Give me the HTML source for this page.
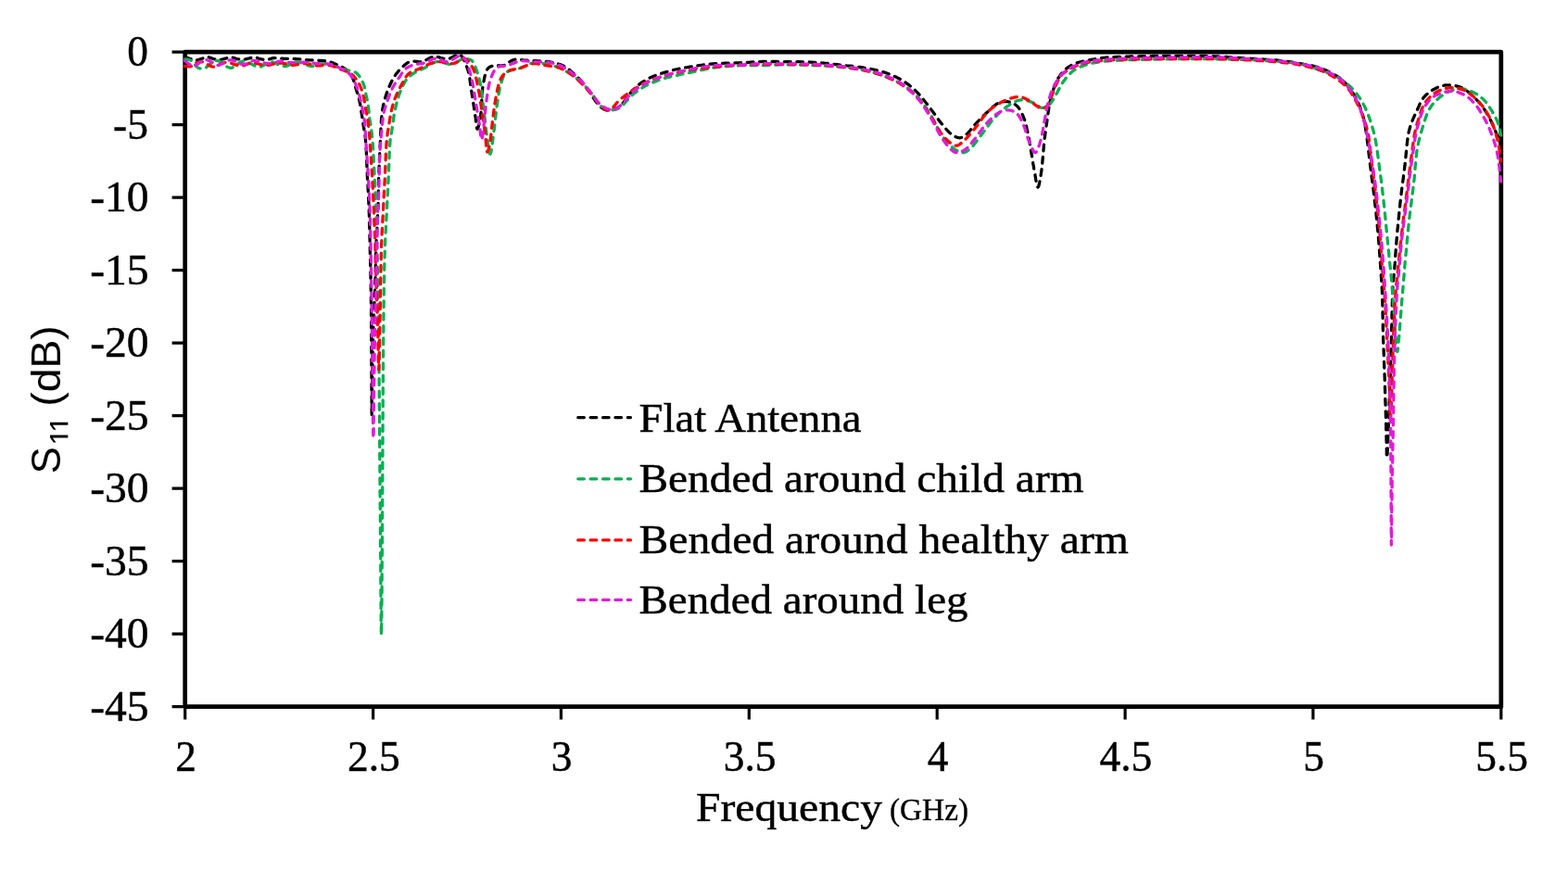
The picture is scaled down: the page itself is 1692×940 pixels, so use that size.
<!DOCTYPE html>
<html><head><meta charset="utf-8"><title>S11 vs Frequency</title>
<style>html,body{margin:0;padding:0;background:#fff;}svg{display:block;}</style>
</head><body>
<svg width="1692" height="940" viewBox="0 0 1692 940"><rect x="199.7" y="56.2" width="1420.1" height="706.5" fill="none" stroke="#000" stroke-width="4.7" stroke-linejoin="round"/>
<path d="M185.6 56.2H199.7 M185.6 134.7H199.7 M185.6 213.2H199.7 M185.6 291.7H199.7 M185.6 370.2H199.7 M185.6 448.7H199.7 M185.6 527.2H199.7 M185.6 605.7H199.7 M185.6 684.2H199.7 M185.6 762.7H199.7 M199.7 762.7V776.5 M402.6 762.7V776.5 M605.4 762.7V776.5 M808.3 762.7V776.5 M1011.2 762.7V776.5 M1214.1 762.7V776.5 M1416.9 762.7V776.5 M1619.8 762.7V776.5" stroke="#000" stroke-width="3.2" stroke-linecap="butt" fill="none"/>
<g fill="none" stroke-width="3.3" stroke-dasharray="6.7 6.7" stroke-linecap="round" stroke-linejoin="round"><path d="M199.7 61.5 L200.5 61.8 L201.2 62.0 L202.0 62.3 L202.7 62.5 L203.5 62.8 L204.2 63.0 L205.0 63.3 L205.7 63.5 L206.4 63.7 L207.0 64.0 L207.7 64.2 L208.3 64.4 L209.0 64.7 L209.6 64.8 L210.3 65.0 L211.0 65.0 L211.8 65.0 L212.7 64.8 L213.6 64.6 L214.6 64.3 L215.5 64.1 L216.4 63.7 L217.3 63.5 L218.1 63.2 L218.8 63.0 L219.5 62.7 L220.1 62.4 L220.7 62.2 L221.4 61.9 L222.0 61.7 L222.7 61.6 L223.4 61.5 L224.3 61.6 L225.3 61.8 L226.2 62.1 L227.2 62.4 L228.2 62.8 L229.2 63.2 L230.2 63.5 L231.1 63.8 L231.8 64.0 L232.5 64.1 L233.1 64.3 L233.7 64.4 L234.4 64.6 L235.0 64.6 L235.7 64.7 L236.4 64.7 L237.3 64.6 L238.3 64.5 L239.3 64.2 L240.3 64.0 L241.3 63.7 L242.3 63.4 L243.2 63.1 L244.1 62.9 L244.7 62.7 L245.3 62.6 L245.9 62.4 L246.4 62.2 L247.0 62.0 L247.6 61.9 L248.2 61.8 L248.8 61.8 L249.7 61.9 L250.8 62.1 L251.8 62.3 L252.9 62.6 L254.1 63.0 L255.1 63.3 L256.2 63.6 L257.1 63.8 L257.7 63.9 L258.3 64.0 L258.9 64.2 L259.4 64.3 L260.0 64.3 L260.6 64.4 L261.2 64.4 L261.8 64.4 L262.7 64.3 L263.8 64.1 L264.8 63.9 L266.0 63.6 L267.1 63.3 L268.1 63.0 L269.2 62.8 L270.1 62.6 L270.7 62.5 L271.3 62.4 L271.9 62.2 L272.5 62.1 L273.0 62.1 L273.6 62.0 L274.2 62.0 L274.8 62.0 L275.7 62.1 L276.8 62.3 L277.8 62.6 L278.9 63.0 L280.1 63.3 L281.1 63.6 L282.2 63.9 L283.1 64.1 L283.7 64.2 L284.3 64.3 L284.9 64.4 L285.4 64.4 L286.0 64.4 L286.6 64.4 L287.2 64.4 L287.8 64.4 L288.7 64.3 L289.7 64.1 L290.7 63.8 L291.8 63.5 L292.9 63.2 L294.0 62.9 L295.0 62.7 L296.1 62.6 L297.2 62.6 L298.2 62.6 L299.3 62.7 L300.3 62.8 L301.4 62.9 L302.5 63.0 L303.6 63.1 L304.8 63.2 L306.4 63.3 L308.0 63.3 L309.7 63.3 L311.4 63.3 L313.2 63.3 L315.0 63.4 L316.7 63.4 L318.4 63.5 L320.0 63.6 L321.7 63.8 L323.3 63.9 L324.9 64.1 L326.5 64.3 L328.2 64.4 L329.8 64.6 L331.4 64.7 L333.0 64.8 L334.7 64.9 L336.3 64.9 L338.0 65.0 L339.6 65.0 L341.2 65.1 L342.8 65.2 L344.4 65.3 L345.8 65.4 L347.1 65.5 L348.4 65.6 L349.8 65.7 L351.1 65.8 L352.4 66.0 L353.7 66.2 L355.0 66.5 L356.5 66.9 L358.0 67.5 L359.6 68.1 L361.1 68.8 L362.7 69.5 L364.1 70.2 L365.5 70.9 L366.8 71.5 L367.6 71.9 L368.4 72.2 L369.2 72.5 L369.9 72.8 L370.6 73.2 L371.3 73.5 L372.0 74.0 L372.7 74.5 L373.7 75.3 L374.7 76.3 L375.7 77.3 L376.7 78.5 L377.6 79.6 L378.5 80.9 L379.4 82.1 L380.1 83.4 L380.8 84.7 L381.3 86.1 L381.8 87.5 L382.2 88.9 L382.7 90.4 L383.1 91.9 L383.5 93.4 L383.9 94.9 L384.4 96.5 L384.9 98.2 L385.4 99.8 L386.0 101.5 L386.5 103.2 L386.9 104.9 L387.4 106.6 L387.8 108.3 L388.2 110.0 L388.5 111.6 L388.8 113.3 L389.1 115.0 L389.3 116.7 L389.6 118.3 L389.8 120.0 L390.1 121.7 L390.4 123.4 L390.6 125.0 L390.9 126.7 L391.1 128.4 L391.4 130.0 L391.6 131.7 L391.8 133.4 L392.1 135.1 L392.4 136.9 L392.7 138.6 L393.0 140.3 L393.3 142.1 L393.6 143.9 L393.9 145.8 L394.2 147.8 L394.4 150.0 L394.7 153.9 L395.0 158.3 L395.3 163.1 L395.5 168.0 L395.7 173.1 L395.9 178.3 L396.1 183.4 L396.3 188.3 L396.5 193.1 L396.8 197.9 L397.1 202.7 L397.3 207.5 L397.6 212.3 L397.8 217.1 L398.0 221.9 L398.2 226.7 L398.4 231.5 L398.5 236.3 L398.6 241.1 L398.8 245.9 L398.9 250.6 L399.0 255.4 L399.1 260.2 L399.2 265.0 L399.3 269.8 L399.4 274.5 L399.6 279.2 L399.7 283.9 L399.8 288.7 L399.9 293.5 L400.0 298.3 L400.1 303.3 L400.2 308.9 L400.3 314.5 L400.4 320.2 L400.4 326.0 L400.5 331.9 L400.6 337.8 L400.6 343.9 L400.7 350.0 L400.8 357.2 L400.8 364.8 L400.8 372.6 L400.9 380.4 L400.9 388.2 L400.9 395.8 L401.0 403.1 L401.0 410.0 L401.0 415.6 L401.0 421.7 L401.1 428.0 L401.1 433.9 L401.1 439.2 L401.1 443.5 L401.2 446.4 L401.2 447.4 L401.3 446.0 L401.3 442.2 L401.4 436.6 L401.5 429.7 L401.6 422.0 L401.7 414.2 L401.8 406.6 L401.9 400.0 L402.0 393.8 L402.1 387.6 L402.2 381.3 L402.4 375.0 L402.5 368.7 L402.7 362.4 L402.8 356.2 L403.0 350.0 L403.2 344.1 L403.4 338.1 L403.7 332.2 L404.0 326.3 L404.2 320.4 L404.5 314.6 L404.7 308.9 L404.9 303.3 L405.1 298.3 L405.2 293.5 L405.3 288.7 L405.4 283.9 L405.5 279.2 L405.6 274.5 L405.7 269.8 L405.9 265.0 L406.1 260.2 L406.3 255.4 L406.6 250.6 L406.9 245.9 L407.1 241.1 L407.4 236.3 L407.6 231.5 L407.8 226.7 L408.0 221.9 L408.1 217.1 L408.2 212.3 L408.3 207.5 L408.4 202.7 L408.5 197.9 L408.6 193.1 L408.8 188.3 L409.0 183.5 L409.2 178.6 L409.4 173.7 L409.6 168.8 L409.8 163.9 L410.0 159.2 L410.3 154.5 L410.5 150.0 L410.7 146.2 L410.8 142.5 L411.0 138.8 L411.2 135.1 L411.4 131.6 L411.6 128.2 L411.9 125.0 L412.2 122.0 L412.5 120.0 L412.8 118.0 L413.1 116.2 L413.4 114.5 L413.8 112.8 L414.2 111.1 L414.6 109.3 L415.1 107.6 L415.6 105.8 L416.1 104.0 L416.7 102.2 L417.3 100.4 L418.0 98.6 L418.6 96.9 L419.3 95.2 L420.0 93.5 L420.7 92.0 L421.4 90.5 L422.1 89.0 L422.8 87.5 L423.5 86.1 L424.3 84.7 L425.1 83.3 L426.0 82.0 L426.9 80.7 L427.8 79.4 L428.8 78.2 L429.8 77.0 L430.8 75.8 L431.8 74.6 L432.9 73.5 L434.0 72.5 L435.0 71.6 L436.1 70.6 L437.2 69.7 L438.3 68.8 L439.4 68.0 L440.6 67.3 L441.8 66.8 L443.0 66.3 L444.4 66.0 L445.8 66.0 L447.3 66.1 L448.8 66.3 L450.3 66.5 L451.8 66.7 L453.4 66.8 L454.9 66.6 L456.6 66.1 L458.3 65.5 L460.0 64.6 L461.7 63.7 L463.5 62.8 L465.2 62.0 L467.0 61.4 L468.7 61.1 L470.4 61.1 L472.2 61.4 L474.0 61.9 L475.8 62.5 L477.6 63.0 L479.3 63.5 L481.0 63.8 L482.6 63.8 L483.9 63.5 L485.2 63.1 L486.5 62.5 L487.8 61.9 L489.0 61.2 L490.1 60.6 L491.2 60.1 L492.2 59.7 L492.8 59.5 L493.4 59.3 L493.9 59.1 L494.4 58.9 L494.9 58.8 L495.4 58.8 L495.9 58.8 L496.4 59.0 L497.5 59.8 L498.6 61.2 L499.7 63.1 L500.9 65.2 L501.9 67.6 L502.9 70.1 L503.9 72.6 L504.7 74.9 L505.5 77.6 L506.1 80.3 L506.7 83.2 L507.1 86.2 L507.5 89.2 L507.9 92.3 L508.3 95.3 L508.8 98.4 L509.3 101.8 L509.9 105.4 L510.5 109.1 L511.0 112.7 L511.5 116.4 L512.1 119.8 L512.5 123.1 L513.0 126.1 L513.3 128.1 L513.5 130.3 L513.8 132.5 L514.0 134.6 L514.2 136.4 L514.5 137.9 L514.8 138.8 L515.1 139.2 L515.5 138.9 L515.9 137.9 L516.3 136.5 L516.8 134.7 L517.3 132.7 L517.7 130.5 L518.1 128.2 L518.5 126.1 L519.0 122.5 L519.3 118.4 L519.6 113.8 L519.8 109.1 L520.0 104.4 L520.3 99.7 L520.7 95.4 L521.3 91.5 L521.8 88.8 L522.3 86.2 L522.8 83.6 L523.4 81.1 L524.0 78.8 L524.8 76.7 L525.7 74.9 L526.8 73.5 L527.7 72.8 L528.6 72.2 L529.6 71.8 L530.7 71.4 L531.8 71.2 L532.9 71.0 L534.0 70.9 L535.1 70.7 L536.1 70.6 L537.1 70.6 L538.2 70.7 L539.2 70.8 L540.2 70.9 L541.3 71.0 L542.3 70.9 L543.4 70.7 L544.7 70.2 L546.1 69.5 L547.4 68.6 L548.8 67.6 L550.1 66.6 L551.6 65.7 L553.0 65.0 L554.5 64.5 L556.1 64.2 L557.8 64.2 L559.5 64.2 L561.3 64.4 L563.0 64.6 L564.8 64.9 L566.6 65.1 L568.3 65.2 L570.0 65.3 L571.7 65.4 L573.5 65.4 L575.2 65.5 L576.9 65.6 L578.6 65.7 L580.4 65.8 L582.1 65.9 L583.8 66.0 L585.6 66.1 L587.3 66.2 L589.1 66.4 L590.8 66.5 L592.6 66.7 L594.3 67.0 L596.0 67.3 L597.8 67.7 L599.6 68.2 L601.4 68.7 L603.2 69.3 L605.0 69.9 L606.7 70.6 L608.3 71.3 L609.8 72.1 L611.0 72.8 L612.1 73.5 L613.1 74.3 L614.2 75.1 L615.1 76.0 L616.1 76.8 L617.0 77.7 L618.0 78.5 L618.9 79.3 L619.8 80.0 L620.7 80.8 L621.5 81.6 L622.4 82.4 L623.3 83.2 L624.1 84.1 L625.0 85.0 L626.1 86.2 L627.1 87.4 L628.2 88.7 L629.3 90.1 L630.4 91.5 L631.5 92.9 L632.6 94.4 L633.8 96.0 L635.4 98.2 L637.1 100.7 L638.8 103.4 L640.6 106.1 L642.4 108.8 L644.2 111.2 L645.9 113.3 L647.7 115.0 L648.8 115.9 L649.9 116.7 L651.0 117.4 L652.1 118.0 L653.2 118.5 L654.4 118.8 L655.5 119.1 L656.7 119.2 L658.1 119.2 L659.6 119.0 L661.1 118.6 L662.6 118.1 L664.1 117.5 L665.6 116.7 L667.0 115.9 L668.4 115.0 L669.9 113.7 L671.4 112.2 L672.8 110.4 L674.2 108.5 L675.5 106.6 L676.8 104.7 L678.1 102.8 L679.5 101.2 L680.7 99.9 L681.9 98.6 L683.0 97.3 L684.2 96.1 L685.4 94.9 L686.6 93.7 L687.8 92.6 L689.2 91.5 L690.7 90.3 L692.3 89.2 L694.0 88.1 L695.7 87.1 L697.4 86.1 L699.2 85.1 L701.1 84.1 L703.0 83.2 L705.3 82.2 L707.8 81.2 L710.4 80.3 L713.0 79.4 L715.7 78.6 L718.4 77.8 L721.1 77.0 L723.7 76.3 L726.3 75.6 L728.8 75.0 L731.3 74.5 L733.9 74.0 L736.5 73.5 L739.1 73.0 L741.7 72.6 L744.5 72.1 L747.8 71.6 L751.1 71.1 L754.5 70.6 L758.0 70.2 L761.6 69.7 L765.1 69.3 L768.6 69.0 L772.1 68.7 L775.6 68.5 L779.1 68.3 L782.7 68.2 L786.2 68.1 L789.7 68.0 L793.2 67.9 L796.5 67.8 L799.8 67.7 L802.5 67.6 L805.0 67.4 L807.5 67.3 L810.0 67.1 L812.4 66.9 L814.9 66.8 L817.4 66.7 L820.0 66.6 L822.9 66.5 L825.9 66.5 L828.9 66.5 L831.9 66.5 L835.0 66.5 L838.1 66.5 L841.3 66.6 L844.6 66.6 L848.7 66.6 L852.9 66.7 L857.3 66.7 L861.8 66.7 L866.3 66.8 L870.7 66.9 L875.0 67.1 L879.2 67.3 L882.8 67.5 L886.3 67.8 L889.8 68.2 L893.2 68.5 L896.6 68.9 L900.0 69.3 L903.4 69.7 L906.8 70.1 L910.3 70.5 L913.8 70.9 L917.4 71.2 L920.9 71.6 L924.4 72.0 L927.9 72.5 L931.2 73.0 L934.5 73.5 L937.3 74.0 L940.0 74.5 L942.6 75.0 L945.2 75.6 L947.7 76.2 L950.2 76.9 L952.7 77.6 L955.2 78.4 L957.6 79.2 L959.9 80.1 L962.2 81.1 L964.5 82.0 L966.8 83.1 L969.0 84.2 L971.1 85.3 L973.2 86.5 L975.1 87.7 L976.9 88.8 L978.6 90.1 L980.4 91.3 L982.0 92.7 L983.7 94.0 L985.4 95.5 L987.0 97.0 L988.8 98.8 L990.6 100.6 L992.3 102.5 L994.0 104.5 L995.7 106.6 L997.4 108.7 L999.1 110.8 L1000.9 113.0 L1003.0 115.7 L1005.1 118.6 L1007.3 121.6 L1009.5 124.6 L1011.6 127.6 L1013.7 130.5 L1015.8 133.1 L1017.7 135.5 L1019.0 137.0 L1020.2 138.4 L1021.4 139.8 L1022.6 141.1 L1023.7 142.3 L1024.9 143.4 L1026.1 144.4 L1027.3 145.3 L1028.3 146.0 L1029.4 146.6 L1030.4 147.2 L1031.5 147.8 L1032.5 148.2 L1033.6 148.5 L1034.6 148.7 L1035.6 148.8 L1036.5 148.7 L1037.4 148.5 L1038.3 148.1 L1039.1 147.7 L1040.0 147.2 L1040.9 146.6 L1041.7 146.0 L1042.6 145.3 L1043.8 144.3 L1044.9 143.1 L1046.1 141.7 L1047.3 140.3 L1048.4 138.8 L1049.6 137.3 L1050.9 135.8 L1052.2 134.3 L1053.8 132.6 L1055.5 130.8 L1057.2 129.0 L1059.0 127.2 L1060.8 125.4 L1062.6 123.7 L1064.3 122.0 L1066.1 120.4 L1067.6 119.0 L1069.2 117.6 L1070.7 116.1 L1072.2 114.8 L1073.8 113.5 L1075.3 112.4 L1076.9 111.4 L1078.5 110.7 L1079.9 110.3 L1081.3 109.9 L1082.7 109.7 L1084.2 109.6 L1085.6 109.6 L1087.0 109.7 L1088.3 109.8 L1089.6 110.1 L1090.7 110.4 L1091.9 110.8 L1093.0 111.3 L1094.0 111.9 L1095.0 112.5 L1096.0 113.2 L1097.0 114.0 L1097.9 114.9 L1099.0 116.1 L1099.9 117.4 L1100.9 118.9 L1101.8 120.5 L1102.6 122.2 L1103.4 123.9 L1104.1 125.6 L1104.8 127.3 L1105.5 129.1 L1106.1 130.9 L1106.6 132.7 L1107.1 134.6 L1107.6 136.5 L1108.0 138.5 L1108.4 140.5 L1108.9 142.6 L1109.5 145.3 L1110.0 148.1 L1110.6 151.1 L1111.1 154.1 L1111.6 157.2 L1112.1 160.2 L1112.6 163.2 L1113.1 166.1 L1113.6 168.8 L1114.0 171.4 L1114.4 174.1 L1114.8 176.7 L1115.3 179.3 L1115.7 181.9 L1116.1 184.4 L1116.6 186.8 L1117.0 189.0 L1117.4 191.5 L1117.8 194.0 L1118.3 196.5 L1118.7 198.6 L1119.1 200.4 L1119.6 201.6 L1120.0 202.0 L1120.4 201.6 L1120.9 200.5 L1121.3 198.8 L1121.8 196.7 L1122.3 194.3 L1122.7 191.8 L1123.1 189.2 L1123.5 186.8 L1124.0 183.1 L1124.5 178.9 L1124.9 174.5 L1125.3 169.8 L1125.7 165.2 L1126.1 160.6 L1126.5 156.2 L1126.9 152.2 L1127.2 149.3 L1127.6 146.6 L1127.9 144.0 L1128.3 141.4 L1128.6 138.9 L1129.0 136.5 L1129.3 134.0 L1129.7 131.5 L1130.0 129.1 L1130.4 126.7 L1130.7 124.4 L1131.0 122.0 L1131.4 119.7 L1131.7 117.4 L1132.1 115.2 L1132.5 113.0 L1132.9 111.2 L1133.2 109.4 L1133.6 107.7 L1134.0 106.1 L1134.4 104.4 L1134.8 102.8 L1135.3 101.1 L1135.8 99.5 L1136.3 97.9 L1136.8 96.3 L1137.3 94.7 L1137.9 93.1 L1138.4 91.5 L1139.1 90.0 L1139.7 88.5 L1140.5 87.0 L1141.3 85.5 L1142.2 84.0 L1143.1 82.6 L1144.1 81.2 L1145.1 79.8 L1146.2 78.5 L1147.3 77.2 L1148.5 76.0 L1149.7 74.9 L1151.0 73.9 L1152.3 72.9 L1153.6 72.0 L1155.0 71.1 L1156.5 70.3 L1158.0 69.5 L1159.5 68.8 L1161.3 68.1 L1163.1 67.5 L1165.0 67.0 L1167.0 66.6 L1169.0 66.1 L1171.0 65.8 L1173.0 65.4 L1175.0 65.0 L1176.9 64.6 L1178.9 64.2 L1180.8 63.9 L1182.7 63.5 L1184.7 63.2 L1186.7 62.9 L1188.8 62.6 L1190.9 62.4 L1193.6 62.1 L1196.5 61.9 L1199.4 61.8 L1202.5 61.6 L1205.5 61.5 L1208.6 61.4 L1211.6 61.3 L1214.6 61.2 L1217.6 61.1 L1220.5 61.0 L1223.5 60.9 L1226.4 60.8 L1229.4 60.8 L1232.3 60.7 L1235.3 60.7 L1238.2 60.6 L1241.1 60.6 L1244.1 60.5 L1247.0 60.5 L1250.0 60.5 L1252.9 60.4 L1255.9 60.4 L1258.8 60.4 L1261.8 60.4 L1264.8 60.4 L1267.7 60.4 L1270.7 60.4 L1273.6 60.4 L1276.6 60.4 L1279.5 60.4 L1282.5 60.4 L1285.5 60.4 L1288.5 60.4 L1291.5 60.4 L1294.5 60.5 L1297.4 60.5 L1300.5 60.5 L1303.5 60.6 L1306.7 60.7 L1310.0 60.8 L1314.1 61.0 L1318.4 61.2 L1322.8 61.5 L1327.3 61.8 L1331.9 62.1 L1336.5 62.4 L1341.0 62.7 L1345.5 63.0 L1350.0 63.3 L1354.5 63.5 L1359.1 63.8 L1363.7 64.1 L1368.2 64.3 L1372.6 64.7 L1376.8 65.0 L1380.9 65.4 L1384.1 65.8 L1387.2 66.2 L1390.3 66.6 L1393.2 67.0 L1396.1 67.4 L1399.0 67.9 L1401.8 68.4 L1404.6 68.9 L1407.1 69.4 L1409.6 69.8 L1412.0 70.2 L1414.5 70.7 L1416.8 71.2 L1419.1 71.8 L1421.4 72.3 L1423.5 73.0 L1425.2 73.6 L1426.9 74.2 L1428.4 74.9 L1430.0 75.6 L1431.5 76.3 L1433.0 77.0 L1434.5 77.8 L1436.0 78.6 L1437.6 79.4 L1439.1 80.3 L1440.7 81.1 L1442.2 82.0 L1443.7 82.9 L1445.2 83.9 L1446.6 84.9 L1448.0 86.0 L1449.3 87.1 L1450.5 88.4 L1451.7 89.6 L1452.9 90.9 L1454.0 92.3 L1455.1 93.7 L1456.1 95.1 L1457.2 96.5 L1458.3 98.0 L1459.3 99.6 L1460.4 101.2 L1461.4 102.8 L1462.3 104.5 L1463.3 106.1 L1464.2 107.8 L1465.0 109.5 L1465.8 111.2 L1466.5 112.9 L1467.3 114.6 L1467.9 116.3 L1468.6 118.1 L1469.2 119.9 L1469.7 121.7 L1470.3 123.5 L1470.8 125.4 L1471.3 127.3 L1471.8 129.3 L1472.2 131.2 L1472.6 133.2 L1473.0 135.3 L1473.4 137.6 L1473.8 140.0 L1474.4 144.0 L1475.0 148.4 L1475.6 153.2 L1476.2 158.1 L1476.8 163.2 L1477.4 168.3 L1478.0 173.4 L1478.6 178.3 L1479.2 183.1 L1479.8 187.9 L1480.4 192.7 L1481.1 197.5 L1481.7 202.3 L1482.3 207.1 L1482.8 211.9 L1483.4 216.7 L1483.9 221.5 L1484.5 226.3 L1485.0 231.1 L1485.5 235.8 L1486.0 240.6 L1486.4 245.4 L1486.9 250.2 L1487.3 255.0 L1487.7 259.9 L1488.1 264.8 L1488.5 269.8 L1488.8 274.8 L1489.2 279.6 L1489.5 284.4 L1489.8 289.0 L1490.1 293.3 L1490.3 296.4 L1490.5 299.3 L1490.7 302.1 L1490.9 304.7 L1491.1 307.4 L1491.2 310.2 L1491.4 313.1 L1491.5 316.3 L1491.7 320.8 L1491.8 325.6 L1491.9 330.5 L1492.0 335.7 L1492.1 341.0 L1492.2 346.4 L1492.3 351.9 L1492.4 357.4 L1492.6 364.1 L1492.8 371.1 L1493.1 378.3 L1493.4 385.6 L1493.6 392.9 L1493.9 400.3 L1494.2 407.6 L1494.4 414.9 L1494.6 422.3 L1494.8 429.9 L1495.1 437.6 L1495.3 445.3 L1495.5 452.8 L1495.7 459.9 L1495.8 466.4 L1496.0 472.3 L1496.1 475.8 L1496.2 479.5 L1496.2 483.1 L1496.3 486.5 L1496.3 489.5 L1496.4 491.9 L1496.5 493.4 L1496.6 494.0 L1496.8 492.5 L1497.1 488.3 L1497.4 482.0 L1497.7 474.2 L1498.0 465.5 L1498.4 456.5 L1498.7 447.8 L1499.0 440.0 L1499.3 431.6 L1499.6 423.0 L1499.9 414.2 L1500.2 405.2 L1500.5 396.3 L1500.8 387.4 L1501.0 378.6 L1501.3 370.0 L1501.5 362.0 L1501.7 353.7 L1501.9 345.3 L1502.1 337.1 L1502.3 329.3 L1502.5 321.9 L1502.7 315.3 L1503.0 309.6 L1503.2 307.1 L1503.3 305.0 L1503.5 303.0 L1503.7 301.2 L1503.9 299.5 L1504.1 297.6 L1504.3 295.6 L1504.5 293.3 L1504.8 289.3 L1505.2 284.9 L1505.5 280.1 L1505.8 275.2 L1506.2 270.1 L1506.6 265.0 L1507.0 259.9 L1507.4 255.0 L1507.8 250.2 L1508.3 245.4 L1508.7 240.6 L1509.2 235.8 L1509.7 231.1 L1510.2 226.3 L1510.7 221.5 L1511.2 216.7 L1511.8 211.9 L1512.3 207.1 L1512.9 202.3 L1513.5 197.5 L1514.2 192.7 L1514.8 187.9 L1515.4 183.1 L1516.0 178.3 L1516.5 173.4 L1517.0 168.5 L1517.5 163.5 L1517.9 158.5 L1518.5 153.6 L1519.1 148.8 L1519.8 144.3 L1520.8 140.0 L1521.7 136.7 L1522.8 133.5 L1524.0 130.5 L1525.2 127.5 L1526.5 124.6 L1527.7 121.9 L1528.9 119.4 L1530.0 117.0 L1530.7 115.5 L1531.3 114.1 L1531.9 112.7 L1532.4 111.5 L1533.0 110.3 L1533.6 109.1 L1534.3 107.9 L1535.1 106.8 L1535.9 105.7 L1536.8 104.7 L1537.7 103.7 L1538.6 102.7 L1539.6 101.8 L1540.6 100.9 L1541.7 100.0 L1542.8 99.2 L1544.2 98.2 L1545.7 97.3 L1547.3 96.4 L1548.9 95.5 L1550.5 94.7 L1552.2 93.9 L1553.9 93.3 L1555.5 92.8 L1556.9 92.5 L1558.4 92.2 L1559.8 92.0 L1561.3 91.9 L1562.7 91.9 L1564.1 91.9 L1565.6 92.0 L1567.0 92.1 L1568.5 92.3 L1569.9 92.5 L1571.4 92.8 L1572.8 93.2 L1574.3 93.6 L1575.7 94.1 L1577.1 94.6 L1578.5 95.3 L1580.0 96.1 L1581.5 97.1 L1583.0 98.2 L1584.4 99.3 L1585.9 100.5 L1587.3 101.8 L1588.6 103.0 L1590.0 104.3 L1591.4 105.6 L1592.7 107.0 L1594.0 108.3 L1595.3 109.7 L1596.6 111.2 L1597.8 112.7 L1599.0 114.2 L1600.2 115.8 L1601.4 117.6 L1602.6 119.4 L1603.8 121.3 L1605.0 123.2 L1606.1 125.2 L1607.2 127.2 L1608.2 129.1 L1609.2 131.1 L1610.1 133.0 L1611.0 135.0 L1611.8 136.9 L1612.6 138.9 L1613.4 140.8 L1614.2 142.8 L1614.9 144.6 L1615.6 146.4 L1616.2 147.8 L1616.7 149.2 L1617.2 150.5 L1617.7 151.8 L1618.2 153.1 L1618.7 154.4 L1619.2 155.7 L1619.7 157.0" stroke="#000000"/><path d="M199.8 63.8 L200.5 63.9 L201.3 64.0 L202.0 64.1 L202.8 64.2 L203.5 64.3 L204.3 64.4 L205.0 64.7 L205.7 65.0 L206.6 65.6 L207.4 66.5 L208.3 67.4 L209.1 68.5 L209.9 69.5 L210.7 70.5 L211.5 71.4 L212.2 72.1 L212.7 72.4 L213.1 72.7 L213.5 73.0 L213.9 73.3 L214.3 73.5 L214.8 73.6 L215.2 73.8 L215.7 73.9 L216.4 74.0 L217.1 74.0 L217.9 74.0 L218.7 74.0 L219.5 73.9 L220.3 73.7 L221.0 73.5 L221.6 73.3 L222.0 73.1 L222.4 72.8 L222.8 72.6 L223.1 72.3 L223.4 71.9 L223.8 71.6 L224.2 71.2 L224.6 70.9 L225.4 70.3 L226.3 69.5 L227.2 68.7 L228.2 67.9 L229.3 67.1 L230.3 66.4 L231.3 65.9 L232.3 65.6 L233.1 65.5 L233.8 65.5 L234.6 65.6 L235.3 65.7 L236.0 65.9 L236.8 66.2 L237.5 66.5 L238.2 66.8 L239.0 67.2 L239.7 67.8 L240.5 68.4 L241.2 69.1 L241.9 69.8 L242.6 70.4 L243.4 71.0 L244.1 71.5 L244.8 71.9 L245.4 72.2 L246.1 72.5 L246.8 72.8 L247.5 73.0 L248.2 73.2 L248.8 73.3 L249.4 73.3 L249.8 73.3 L250.2 73.2 L250.6 73.1 L250.9 72.9 L251.3 72.7 L251.6 72.5 L252.0 72.3 L252.4 72.1 L253.0 71.8 L253.5 71.3 L254.1 70.9 L254.7 70.4 L255.3 69.9 L255.9 69.4 L256.5 68.9 L257.1 68.5 L257.7 68.1 L258.2 67.8 L258.8 67.4 L259.4 67.1 L259.9 66.8 L260.5 66.5 L261.2 66.3 L261.8 66.2 L262.6 66.2 L263.5 66.3 L264.4 66.5 L265.3 66.7 L266.2 67.0 L267.1 67.3 L268.0 67.7 L268.9 68.0 L269.7 68.3 L270.4 68.7 L271.2 69.1 L271.9 69.5 L272.6 69.9 L273.3 70.3 L274.1 70.6 L274.8 70.9 L275.5 71.1 L276.3 71.4 L277.0 71.6 L277.8 71.8 L278.6 72.0 L279.3 72.1 L280.0 72.1 L280.7 72.1 L281.3 72.0 L281.8 71.9 L282.3 71.6 L282.8 71.4 L283.3 71.1 L283.8 70.9 L284.3 70.6 L284.9 70.3 L285.8 69.9 L286.7 69.4 L287.6 68.8 L288.6 68.2 L289.6 67.7 L290.6 67.3 L291.6 66.9 L292.6 66.8 L293.5 66.9 L294.4 67.1 L295.4 67.4 L296.3 67.8 L297.2 68.3 L298.1 68.7 L299.1 69.2 L300.0 69.5 L300.9 69.8 L301.9 70.2 L302.8 70.5 L303.7 70.8 L304.7 71.1 L305.6 71.4 L306.6 71.5 L307.7 71.5 L309.2 71.3 L310.7 70.7 L312.3 70.0 L313.9 69.1 L315.6 68.3 L317.3 67.6 L319.0 67.0 L320.7 66.8 L322.6 67.0 L324.5 67.5 L326.5 68.2 L328.4 69.0 L330.4 69.9 L332.4 70.7 L334.3 71.2 L336.1 71.5 L337.6 71.4 L339.1 71.1 L340.6 70.7 L342.1 70.2 L343.5 69.7 L344.9 69.3 L346.4 68.9 L347.9 68.8 L349.5 68.9 L351.1 69.0 L352.7 69.3 L354.4 69.7 L356.0 70.1 L357.6 70.6 L359.3 71.1 L360.9 71.5 L362.5 72.0 L364.2 72.4 L365.9 73.0 L367.5 73.5 L369.1 74.1 L370.8 74.6 L372.3 75.1 L373.9 75.6 L375.3 76.0 L376.6 76.2 L378.0 76.5 L379.3 76.7 L380.6 77.0 L381.9 77.3 L383.1 77.8 L384.2 78.5 L385.3 79.4 L386.4 80.6 L387.5 81.8 L388.4 83.2 L389.3 84.6 L390.1 86.1 L390.9 87.6 L391.6 89.1 L392.2 90.6 L392.7 92.1 L393.2 93.6 L393.6 95.2 L393.9 96.8 L394.2 98.4 L394.6 100.0 L394.9 101.6 L395.2 103.1 L395.6 104.7 L395.9 106.2 L396.2 107.8 L396.5 109.3 L396.8 110.9 L397.1 112.4 L397.3 114.0 L397.5 115.6 L397.7 117.3 L397.9 119.0 L398.1 120.7 L398.2 122.4 L398.4 124.1 L398.6 125.7 L398.8 127.4 L399.0 129.0 L399.3 130.5 L399.5 132.1 L399.8 133.6 L400.0 135.2 L400.3 136.8 L400.5 138.3 L400.7 139.9 L400.9 141.5 L401.1 143.1 L401.3 144.6 L401.4 146.2 L401.6 147.8 L401.8 149.5 L401.9 151.3 L402.1 153.3 L402.4 156.9 L402.6 160.8 L402.8 165.1 L403.1 169.7 L403.3 174.3 L403.5 179.0 L403.8 183.7 L404.0 188.3 L404.2 193.0 L404.5 197.8 L404.8 202.6 L405.0 207.4 L405.3 212.2 L405.5 217.1 L405.7 221.9 L405.9 226.7 L406.1 231.5 L406.2 236.3 L406.3 241.1 L406.4 245.9 L406.5 250.6 L406.6 255.4 L406.7 260.2 L406.8 265.0 L406.9 269.7 L407.0 274.2 L407.2 278.6 L407.3 283.1 L407.4 287.7 L407.6 292.5 L407.7 297.7 L407.8 303.3 L408.0 313.1 L408.1 323.9 L408.3 335.4 L408.4 347.6 L408.6 360.3 L408.7 373.3 L408.9 386.6 L409.0 400.0 L409.2 417.2 L409.3 435.4 L409.5 454.2 L409.7 473.4 L409.8 492.9 L410.0 512.3 L410.1 531.4 L410.3 550.0 L410.5 569.1 L410.6 590.6 L410.8 613.0 L410.9 634.8 L411.1 654.5 L411.2 670.4 L411.4 681.1 L411.5 685.0 L411.6 681.1 L411.8 670.4 L411.9 654.5 L412.1 634.8 L412.2 613.0 L412.4 590.6 L412.5 569.1 L412.6 550.0 L412.7 531.4 L412.8 512.3 L412.9 492.9 L413.0 473.4 L413.1 454.2 L413.2 435.4 L413.3 417.2 L413.4 400.0 L413.5 386.6 L413.6 373.3 L413.8 360.3 L413.9 347.6 L414.0 335.4 L414.2 323.9 L414.3 313.1 L414.5 303.3 L414.6 297.7 L414.7 292.5 L414.8 287.7 L414.9 283.1 L415.0 278.6 L415.2 274.2 L415.3 269.7 L415.5 265.0 L415.7 260.2 L415.9 255.4 L416.1 250.6 L416.4 245.9 L416.6 241.1 L416.9 236.3 L417.2 231.5 L417.4 226.7 L417.6 221.9 L417.9 217.1 L418.1 212.3 L418.4 207.5 L418.6 202.7 L418.8 197.9 L419.1 193.1 L419.3 188.3 L419.5 183.3 L419.7 178.1 L419.9 172.8 L420.1 167.5 L420.3 162.4 L420.6 157.7 L420.9 153.5 L421.2 150.0 L421.4 148.6 L421.6 147.4 L421.8 146.3 L422.0 145.4 L422.2 144.4 L422.4 143.4 L422.6 142.3 L422.8 141.1 L423.1 139.0 L423.4 136.7 L423.8 134.3 L424.1 131.7 L424.5 129.2 L424.8 126.7 L425.2 124.2 L425.6 122.0 L425.9 120.3 L426.3 118.7 L426.6 117.1 L427.0 115.5 L427.3 114.0 L427.7 112.5 L428.1 111.0 L428.5 109.5 L428.9 108.0 L429.3 106.6 L429.8 105.2 L430.2 103.7 L430.7 102.3 L431.2 100.9 L431.7 99.5 L432.3 98.1 L432.9 96.6 L433.6 95.1 L434.2 93.6 L434.9 92.1 L435.6 90.6 L436.4 89.2 L437.2 87.9 L438.1 86.6 L438.9 85.6 L439.8 84.6 L440.7 83.6 L441.6 82.8 L442.5 81.9 L443.6 81.1 L444.6 80.3 L445.7 79.5 L447.0 78.6 L448.4 77.9 L449.9 77.1 L451.4 76.4 L453.0 75.7 L454.6 75.0 L456.1 74.3 L457.7 73.5 L459.4 72.6 L461.0 71.6 L462.7 70.5 L464.4 69.5 L466.1 68.5 L467.9 67.7 L469.7 67.0 L471.5 66.6 L473.5 66.5 L475.6 66.8 L477.7 67.3 L479.9 68.0 L482.1 68.6 L484.2 69.2 L486.2 69.5 L488.1 69.4 L489.6 69.0 L491.1 68.3 L492.5 67.5 L493.8 66.6 L495.2 65.7 L496.5 64.8 L497.8 64.2 L499.2 63.8 L500.4 63.6 L501.7 63.5 L503.0 63.5 L504.3 63.6 L505.5 63.8 L506.7 64.2 L507.8 64.6 L508.8 65.2 L509.8 66.1 L510.6 67.2 L511.4 68.5 L512.1 70.0 L512.7 71.5 L513.3 73.1 L513.8 74.7 L514.4 76.3 L515.0 78.0 L515.6 79.8 L516.2 81.7 L516.7 83.6 L517.2 85.5 L517.6 87.5 L518.1 89.5 L518.5 91.5 L518.9 93.9 L519.3 96.3 L519.7 98.8 L520.0 101.3 L520.3 103.9 L520.6 106.6 L520.9 109.3 L521.3 112.2 L521.8 116.2 L522.3 120.5 L522.8 125.0 L523.3 129.6 L523.8 134.2 L524.3 138.6 L524.9 142.9 L525.4 146.8 L525.8 149.8 L526.3 153.0 L526.7 156.2 L527.1 159.3 L527.6 162.0 L528.0 164.2 L528.5 165.7 L528.9 166.2 L529.3 165.7 L529.8 164.2 L530.2 162.0 L530.6 159.3 L531.0 156.2 L531.5 153.0 L531.9 149.8 L532.3 146.8 L532.8 142.9 L533.4 138.7 L533.9 134.2 L534.4 129.6 L534.9 125.0 L535.4 120.5 L535.9 116.2 L536.5 112.2 L537.0 109.1 L537.4 106.1 L537.8 103.2 L538.3 100.4 L538.8 97.6 L539.3 95.0 L539.9 92.5 L540.6 90.1 L541.1 88.4 L541.7 86.7 L542.2 85.1 L542.8 83.5 L543.4 82.1 L544.2 80.7 L545.1 79.5 L546.2 78.4 L547.7 77.4 L549.4 76.6 L551.2 76.0 L553.3 75.5 L555.4 75.0 L557.4 74.6 L559.5 74.1 L561.4 73.5 L563.1 72.8 L564.8 72.0 L566.5 71.2 L568.1 70.4 L569.8 69.6 L571.5 68.9 L573.3 68.4 L575.2 68.0 L577.6 67.8 L580.2 67.9 L582.9 68.1 L585.6 68.5 L588.3 68.9 L591.0 69.5 L593.6 70.1 L596.0 70.7 L597.9 71.2 L599.8 71.8 L601.5 72.5 L603.3 73.2 L605.0 73.9 L606.6 74.7 L608.2 75.5 L609.8 76.3 L611.2 77.1 L612.5 77.8 L613.8 78.6 L615.1 79.5 L616.3 80.3 L617.5 81.2 L618.8 82.1 L620.0 83.0 L621.3 84.0 L622.6 85.0 L623.8 86.0 L625.1 87.0 L626.3 88.1 L627.6 89.2 L628.8 90.3 L630.0 91.5 L631.3 92.8 L632.6 94.2 L633.9 95.6 L635.2 97.1 L636.4 98.6 L637.6 100.1 L638.8 101.5 L640.0 103.0 L641.0 104.4 L641.9 105.9 L642.8 107.4 L643.7 108.9 L644.5 110.3 L645.5 111.7 L646.5 112.9 L647.7 114.0 L649.0 114.9 L650.5 115.8 L652.1 116.5 L653.7 117.1 L655.4 117.7 L657.1 118.1 L658.6 118.4 L660.1 118.5 L661.2 118.5 L662.3 118.5 L663.3 118.3 L664.3 118.1 L665.3 117.8 L666.3 117.4 L667.3 117.0 L668.4 116.4 L670.0 115.3 L671.7 113.8 L673.4 112.0 L675.1 110.1 L676.9 108.1 L678.6 106.1 L680.4 104.2 L682.2 102.6 L683.9 101.2 L685.5 99.9 L687.2 98.6 L688.8 97.4 L690.6 96.2 L692.3 95.1 L694.2 94.0 L696.1 92.9 L698.4 91.7 L700.8 90.6 L703.3 89.5 L705.9 88.4 L708.5 87.4 L711.3 86.4 L714.0 85.5 L716.8 84.6 L720.0 83.7 L723.4 82.8 L726.8 82.0 L730.4 81.3 L733.9 80.5 L737.5 79.8 L741.0 79.1 L744.5 78.4 L747.9 77.6 L751.4 76.9 L754.8 76.1 L758.3 75.3 L761.7 74.6 L765.2 73.9 L768.6 73.3 L772.1 72.8 L775.6 72.4 L779.1 72.0 L782.7 71.7 L786.2 71.4 L789.7 71.2 L793.2 71.0 L796.5 70.8 L799.8 70.7 L802.5 70.6 L805.0 70.6 L807.5 70.6 L810.0 70.6 L812.4 70.7 L814.9 70.7 L817.4 70.7 L820.0 70.7 L822.9 70.6 L825.9 70.5 L828.9 70.4 L831.9 70.2 L835.0 70.1 L838.1 70.0 L841.3 69.9 L844.6 69.8 L848.7 69.8 L852.9 69.8 L857.3 69.9 L861.8 70.0 L866.3 70.1 L870.7 70.2 L875.0 70.3 L879.2 70.5 L882.8 70.6 L886.3 70.8 L889.8 70.9 L893.2 71.1 L896.6 71.3 L900.0 71.5 L903.4 71.8 L906.8 72.1 L910.3 72.5 L913.8 72.9 L917.4 73.4 L920.9 73.8 L924.4 74.4 L927.9 75.0 L931.2 75.6 L934.5 76.3 L937.3 76.9 L940.0 77.6 L942.6 78.3 L945.2 79.1 L947.7 79.9 L950.2 80.7 L952.7 81.6 L955.2 82.5 L957.6 83.4 L959.9 84.4 L962.2 85.3 L964.4 86.3 L966.7 87.4 L968.9 88.5 L971.1 89.7 L973.2 91.0 L975.4 92.4 L977.6 93.8 L979.7 95.3 L981.8 96.9 L983.9 98.6 L985.9 100.3 L987.9 102.1 L989.8 104.0 L991.7 106.1 L993.6 108.3 L995.4 110.6 L997.1 113.0 L998.8 115.5 L1000.5 118.0 L1002.1 120.6 L1003.8 123.2 L1005.6 126.2 L1007.3 129.4 L1009.0 132.6 L1010.7 136.0 L1012.3 139.2 L1014.0 142.4 L1015.8 145.4 L1017.7 148.1 L1019.3 150.2 L1021.0 152.3 L1022.8 154.2 L1024.6 156.1 L1026.4 157.8 L1028.1 159.4 L1029.8 160.8 L1031.5 161.9 L1032.6 162.6 L1033.6 163.1 L1034.7 163.7 L1035.7 164.1 L1036.8 164.4 L1037.8 164.7 L1038.8 164.8 L1039.8 164.7 L1040.9 164.5 L1041.9 164.0 L1043.0 163.5 L1044.0 162.8 L1045.0 162.0 L1046.0 161.1 L1047.1 160.1 L1048.1 159.2 L1049.5 157.8 L1050.8 156.3 L1052.2 154.6 L1053.6 152.8 L1055.0 151.0 L1056.4 149.1 L1057.8 147.2 L1059.2 145.3 L1060.9 143.1 L1062.5 140.9 L1064.2 138.5 L1065.9 136.2 L1067.7 133.8 L1069.4 131.5 L1071.2 129.4 L1073.0 127.3 L1074.7 125.5 L1076.3 123.8 L1078.0 122.2 L1079.7 120.6 L1081.5 119.0 L1083.2 117.6 L1085.0 116.2 L1086.8 114.9 L1088.5 113.8 L1090.2 112.6 L1091.9 111.6 L1093.6 110.6 L1095.3 109.7 L1097.1 108.9 L1098.8 108.4 L1100.6 108.0 L1102.3 107.9 L1104.1 107.9 L1105.9 108.2 L1107.7 108.5 L1109.5 109.0 L1111.2 109.5 L1112.9 110.1 L1114.5 110.7 L1115.8 111.3 L1117.1 112.1 L1118.4 113.0 L1119.6 113.9 L1120.8 114.7 L1121.9 115.5 L1123.1 116.0 L1124.2 116.3 L1125.1 116.4 L1126.0 116.3 L1126.9 116.2 L1127.8 115.9 L1128.6 115.6 L1129.5 115.2 L1130.3 114.8 L1131.1 114.2 L1132.2 113.2 L1133.3 111.9 L1134.4 110.5 L1135.5 108.9 L1136.5 107.1 L1137.5 105.4 L1138.5 103.7 L1139.5 102.0 L1140.5 100.3 L1141.5 98.5 L1142.4 96.7 L1143.4 94.9 L1144.3 93.1 L1145.3 91.4 L1146.4 89.6 L1147.5 88.0 L1148.7 86.4 L1149.9 84.8 L1151.1 83.3 L1152.4 81.8 L1153.8 80.3 L1155.1 79.0 L1156.5 77.7 L1158.0 76.5 L1159.4 75.5 L1160.8 74.6 L1162.2 73.8 L1163.7 73.1 L1165.2 72.4 L1166.8 71.7 L1168.4 71.1 L1170.0 70.5 L1171.9 69.9 L1173.9 69.3 L1175.9 68.8 L1178.0 68.3 L1180.2 67.9 L1182.4 67.5 L1184.6 67.2 L1187.0 66.8 L1190.0 66.4 L1193.0 66.1 L1196.1 65.8 L1199.3 65.6 L1202.6 65.3 L1206.3 65.2 L1210.2 65.0 L1214.6 64.8 L1224.7 64.5 L1236.8 64.2 L1250.4 63.9 L1264.8 63.7 L1279.6 63.6 L1294.1 63.6 L1307.7 63.7 L1320.0 63.8 L1328.6 64.0 L1337.1 64.2 L1345.3 64.5 L1353.3 64.8 L1360.9 65.2 L1368.1 65.6 L1374.8 66.0 L1380.9 66.5 L1384.4 66.8 L1387.6 67.1 L1390.6 67.4 L1393.5 67.7 L1396.2 68.0 L1399.0 68.4 L1401.7 68.9 L1404.6 69.5 L1407.6 70.2 L1410.7 71.1 L1413.8 72.0 L1416.8 73.1 L1419.8 74.1 L1422.7 75.1 L1425.5 76.1 L1428.0 77.0 L1429.7 77.6 L1431.3 78.1 L1432.8 78.6 L1434.3 79.1 L1435.7 79.7 L1437.1 80.2 L1438.6 80.8 L1440.0 81.5 L1441.5 82.3 L1443.0 83.1 L1444.5 84.0 L1446.0 84.9 L1447.5 85.8 L1448.9 86.8 L1450.4 87.9 L1451.8 89.0 L1453.4 90.3 L1454.9 91.6 L1456.5 93.0 L1458.0 94.5 L1459.5 96.0 L1460.9 97.6 L1462.4 99.2 L1463.7 100.8 L1465.0 102.6 L1466.3 104.4 L1467.6 106.2 L1468.8 108.1 L1469.9 110.1 L1471.0 112.1 L1472.1 114.1 L1473.1 116.2 L1474.1 118.4 L1475.1 120.8 L1476.1 123.2 L1477.0 125.6 L1477.9 128.0 L1478.7 130.4 L1479.5 132.8 L1480.2 135.1 L1480.8 137.0 L1481.3 138.8 L1481.8 140.6 L1482.3 142.3 L1482.7 144.1 L1483.1 146.0 L1483.6 147.9 L1484.0 150.0 L1484.6 153.1 L1485.1 156.3 L1485.7 159.7 L1486.2 163.3 L1486.7 167.0 L1487.2 170.7 L1487.7 174.5 L1488.2 178.3 L1488.8 182.8 L1489.4 187.5 L1490.1 192.3 L1490.7 197.1 L1491.3 202.0 L1491.9 207.0 L1492.4 211.9 L1493.0 216.7 L1493.5 221.5 L1494.0 226.4 L1494.5 231.3 L1495.0 236.2 L1495.5 241.0 L1495.9 245.8 L1496.4 250.5 L1496.8 255.0 L1497.2 258.8 L1497.6 262.6 L1497.9 266.3 L1498.3 269.9 L1498.7 273.5 L1499.0 277.0 L1499.4 280.4 L1499.7 283.8 L1500.0 286.6 L1500.3 289.2 L1500.5 291.8 L1500.8 294.3 L1501.0 296.8 L1501.3 299.4 L1501.5 302.1 L1501.8 305.0 L1502.1 308.8 L1502.4 312.6 L1502.7 316.7 L1503.0 320.8 L1503.3 325.0 L1503.6 329.3 L1504.0 333.6 L1504.3 338.0 L1504.7 343.5 L1505.1 350.0 L1505.6 356.9 L1506.1 363.6 L1506.5 369.8 L1507.0 374.8 L1507.4 378.2 L1507.8 379.5 L1508.0 379.1 L1508.2 378.0 L1508.5 376.4 L1508.7 374.3 L1508.9 372.0 L1509.1 369.6 L1509.3 367.2 L1509.5 365.0 L1509.8 362.2 L1510.0 359.3 L1510.3 356.2 L1510.5 353.1 L1510.7 349.8 L1511.0 346.6 L1511.2 343.3 L1511.5 340.0 L1511.8 336.4 L1512.1 332.7 L1512.4 328.9 L1512.7 325.2 L1513.0 321.4 L1513.4 317.6 L1513.7 313.8 L1514.0 310.0 L1514.3 306.3 L1514.6 302.6 L1514.9 299.0 L1515.2 295.4 L1515.5 291.7 L1515.8 287.9 L1516.1 284.0 L1516.5 280.0 L1517.0 274.9 L1517.5 269.5 L1518.0 263.9 L1518.5 258.2 L1519.1 252.5 L1519.6 246.8 L1520.2 241.2 L1520.8 235.8 L1521.4 230.9 L1522.0 226.0 L1522.6 221.2 L1523.2 216.5 L1523.8 211.7 L1524.4 207.0 L1525.0 202.3 L1525.6 197.5 L1526.1 192.7 L1526.5 187.9 L1526.9 183.0 L1527.3 178.1 L1527.7 173.3 L1528.2 168.7 L1528.7 164.2 L1529.4 160.0 L1530.0 156.9 L1530.6 153.9 L1531.3 151.1 L1532.0 148.3 L1532.7 145.6 L1533.5 142.9 L1534.3 140.2 L1535.1 137.5 L1535.9 134.8 L1536.8 132.1 L1537.6 129.4 L1538.5 126.7 L1539.5 124.1 L1540.5 121.6 L1541.6 119.2 L1542.8 117.0 L1543.9 115.3 L1545.0 113.7 L1546.3 112.1 L1547.5 110.7 L1548.8 109.3 L1550.2 108.0 L1551.6 106.7 L1553.0 105.5 L1554.5 104.3 L1556.0 103.2 L1557.6 102.1 L1559.2 101.1 L1560.8 100.2 L1562.5 99.3 L1564.1 98.5 L1565.8 97.9 L1567.4 97.4 L1568.9 96.9 L1570.5 96.6 L1572.1 96.3 L1573.7 96.0 L1575.3 95.9 L1576.9 95.9 L1578.5 96.0 L1580.1 96.2 L1581.8 96.6 L1583.4 97.0 L1585.1 97.6 L1586.7 98.2 L1588.3 98.9 L1589.8 99.6 L1591.3 100.4 L1592.7 101.2 L1594.1 102.0 L1595.4 102.9 L1596.7 103.8 L1597.9 104.8 L1599.1 105.8 L1600.3 106.9 L1601.5 108.1 L1602.8 109.5 L1604.0 111.0 L1605.2 112.5 L1606.3 114.2 L1607.4 115.9 L1608.5 117.6 L1609.5 119.2 L1610.5 120.9 L1611.4 122.5 L1612.3 124.0 L1613.2 125.6 L1614.0 127.2 L1614.8 128.8 L1615.5 130.4 L1616.2 132.0 L1616.8 133.6 L1617.3 135.1 L1617.7 136.7 L1618.1 138.2 L1618.4 139.8 L1618.7 141.3 L1619.0 142.9 L1619.4 144.4 L1619.7 146.0" stroke="#00B050"/><path d="M199.7 71.5 L200.5 71.5 L201.4 71.6 L202.2 71.7 L203.1 71.7 L203.9 71.8 L204.8 71.8 L205.6 71.7 L206.3 71.5 L206.9 71.2 L207.5 70.8 L208.1 70.3 L208.6 69.8 L209.2 69.3 L209.7 68.8 L210.3 68.4 L211.0 68.0 L211.8 67.7 L212.7 67.4 L213.6 67.2 L214.5 67.0 L215.5 66.8 L216.4 66.7 L217.3 66.7 L218.1 66.8 L218.7 66.9 L219.3 67.2 L219.9 67.4 L220.4 67.8 L221.0 68.1 L221.6 68.4 L222.2 68.8 L222.8 69.1 L223.7 69.5 L224.6 70.0 L225.6 70.5 L226.6 71.0 L227.6 71.4 L228.6 71.8 L229.6 72.0 L230.5 72.1 L231.2 72.0 L231.9 71.9 L232.6 71.6 L233.3 71.3 L233.9 71.0 L234.6 70.6 L235.3 70.3 L236.0 70.0 L236.8 69.7 L237.7 69.3 L238.6 68.9 L239.4 68.5 L240.3 68.1 L241.2 67.8 L242.1 67.6 L242.9 67.4 L243.6 67.3 L244.2 67.3 L244.9 67.4 L245.5 67.5 L246.2 67.6 L246.8 67.7 L247.5 67.9 L248.2 68.0 L249.1 68.2 L250.1 68.5 L251.0 68.8 L252.0 69.1 L253.0 69.5 L254.0 69.8 L255.0 70.1 L255.9 70.3 L256.7 70.5 L257.4 70.6 L258.1 70.7 L258.9 70.8 L259.6 70.9 L260.3 71.0 L261.0 71.0 L261.8 70.9 L262.7 70.7 L263.6 70.5 L264.4 70.2 L265.3 69.8 L266.3 69.4 L267.1 69.0 L268.0 68.7 L268.9 68.5 L269.7 68.4 L270.4 68.2 L271.1 68.1 L271.8 68.0 L272.6 68.0 L273.3 68.0 L274.0 68.0 L274.8 68.0 L275.7 68.1 L276.5 68.3 L277.4 68.5 L278.3 68.8 L279.2 69.0 L280.1 69.3 L281.0 69.5 L281.9 69.7 L282.9 69.8 L283.8 70.0 L284.8 70.1 L285.8 70.2 L286.8 70.3 L287.8 70.3 L288.7 70.3 L289.6 70.3 L290.3 70.2 L291.0 70.1 L291.6 70.0 L292.2 69.8 L292.9 69.6 L293.5 69.4 L294.2 69.2 L294.9 69.1 L295.8 68.9 L296.8 68.7 L297.7 68.5 L298.7 68.4 L299.7 68.2 L300.8 68.1 L301.9 68.0 L303.0 68.0 L304.5 68.1 L306.0 68.4 L307.7 68.7 L309.3 69.1 L311.0 69.6 L312.7 69.9 L314.4 70.2 L316.0 70.3 L317.6 70.2 L319.2 70.0 L320.9 69.7 L322.5 69.4 L324.1 69.0 L325.8 68.8 L327.4 68.6 L329.0 68.5 L330.6 68.6 L332.3 68.9 L333.9 69.2 L335.5 69.6 L337.1 70.0 L338.7 70.4 L340.4 70.7 L342.0 70.9 L343.6 70.9 L345.3 70.8 L346.9 70.7 L348.6 70.5 L350.2 70.3 L351.8 70.2 L353.4 70.2 L355.0 70.3 L356.5 70.6 L358.1 71.0 L359.6 71.5 L361.1 72.1 L362.5 72.7 L364.0 73.4 L365.4 74.0 L366.8 74.5 L368.0 74.9 L369.2 75.4 L370.3 75.8 L371.5 76.2 L372.6 76.6 L373.7 77.1 L374.7 77.5 L375.7 78.0 L376.4 78.4 L377.2 78.8 L377.8 79.1 L378.5 79.5 L379.1 79.9 L379.7 80.4 L380.4 80.9 L381.0 81.5 L381.9 82.4 L382.8 83.5 L383.7 84.6 L384.6 85.8 L385.5 87.1 L386.3 88.4 L387.1 89.8 L387.8 91.1 L388.5 92.5 L389.1 94.0 L389.7 95.6 L390.3 97.1 L390.8 98.7 L391.2 100.3 L391.7 101.9 L392.1 103.5 L392.5 105.0 L392.8 106.6 L393.1 108.1 L393.4 109.7 L393.6 111.2 L393.9 112.8 L394.1 114.3 L394.4 115.9 L394.7 117.6 L395.0 119.2 L395.3 120.9 L395.7 122.6 L396.0 124.3 L396.3 126.0 L396.5 127.6 L396.8 129.3 L397.0 130.9 L397.2 132.5 L397.4 134.0 L397.6 135.6 L397.8 137.1 L398.0 138.7 L398.1 140.2 L398.3 141.8 L398.4 143.3 L398.6 144.8 L398.7 146.2 L398.8 147.6 L398.9 149.1 L399.0 150.7 L399.1 152.4 L399.2 154.2 L399.4 157.6 L399.7 161.5 L400.0 165.7 L400.3 170.1 L400.6 174.6 L400.9 179.2 L401.2 183.8 L401.5 188.3 L401.8 193.0 L402.0 197.7 L402.3 202.5 L402.5 207.4 L402.7 212.2 L403.0 217.0 L403.2 221.9 L403.4 226.7 L403.6 231.5 L403.8 236.3 L404.0 241.1 L404.2 245.9 L404.4 250.6 L404.6 255.4 L404.7 260.2 L404.9 265.0 L405.0 269.8 L405.2 274.5 L405.3 279.2 L405.4 283.9 L405.5 288.7 L405.6 293.5 L405.8 298.3 L405.9 303.3 L406.1 308.9 L406.3 314.6 L406.5 320.4 L406.7 326.3 L406.9 332.2 L407.1 338.1 L407.3 344.1 L407.5 350.0 L407.7 356.7 L407.9 364.4 L408.0 372.6 L408.2 380.5 L408.3 387.7 L408.5 393.5 L408.6 397.5 L408.8 398.9 L408.9 397.8 L409.1 394.8 L409.2 390.3 L409.3 384.8 L409.4 378.5 L409.6 372.1 L409.7 365.7 L409.8 360.0 L409.9 353.3 L410.0 346.3 L410.2 339.0 L410.3 331.6 L410.4 324.2 L410.5 316.9 L410.6 309.9 L410.7 303.3 L410.8 298.2 L410.9 293.2 L411.0 288.4 L411.1 283.7 L411.2 279.0 L411.3 274.4 L411.4 269.7 L411.6 265.0 L411.8 260.2 L412.0 255.4 L412.2 250.6 L412.5 245.9 L412.7 241.1 L413.0 236.3 L413.3 231.5 L413.5 226.7 L413.7 221.9 L414.0 217.1 L414.2 212.3 L414.5 207.5 L414.8 202.7 L415.0 197.9 L415.3 193.1 L415.5 188.3 L415.7 183.4 L415.9 178.3 L416.1 173.1 L416.3 168.0 L416.5 163.0 L416.8 158.2 L417.1 153.9 L417.4 150.0 L417.6 147.9 L417.9 146.0 L418.1 144.2 L418.4 142.5 L418.7 140.9 L419.0 139.3 L419.2 137.6 L419.5 136.0 L419.7 134.5 L420.0 132.9 L420.2 131.4 L420.5 129.9 L420.7 128.4 L421.0 126.9 L421.2 125.5 L421.5 124.0 L421.8 122.6 L422.1 121.2 L422.3 119.8 L422.6 118.5 L422.9 117.1 L423.3 115.7 L423.6 114.4 L424.0 113.0 L424.4 111.6 L424.9 110.2 L425.3 108.8 L425.8 107.4 L426.3 106.0 L426.9 104.6 L427.4 103.3 L428.0 101.9 L428.6 100.6 L429.2 99.2 L429.9 97.9 L430.6 96.5 L431.3 95.2 L432.0 93.9 L432.6 92.6 L433.3 91.4 L433.9 90.3 L434.5 89.2 L435.0 88.1 L435.6 87.0 L436.2 85.9 L436.7 84.9 L437.4 83.9 L438.0 83.0 L438.6 82.3 L439.1 81.6 L439.7 80.9 L440.3 80.2 L440.9 79.6 L441.6 79.1 L442.3 78.5 L443.0 78.0 L443.8 77.5 L444.7 77.1 L445.5 76.7 L446.5 76.4 L447.4 76.1 L448.5 75.7 L449.5 75.3 L450.7 74.9 L452.8 74.0 L455.2 72.8 L457.8 71.6 L460.6 70.3 L463.4 69.0 L466.2 68.0 L468.9 67.1 L471.5 66.6 L473.6 66.5 L475.8 66.7 L477.9 67.1 L480.0 67.6 L482.1 68.1 L484.1 68.5 L486.1 68.7 L488.1 68.7 L489.9 68.3 L491.8 67.6 L493.6 66.7 L495.4 65.7 L497.2 64.8 L498.8 64.1 L500.4 63.7 L501.9 63.8 L503.2 64.3 L504.4 65.1 L505.5 66.2 L506.5 67.4 L507.5 68.9 L508.5 70.4 L509.4 71.9 L510.2 73.5 L511.2 75.6 L512.1 78.0 L512.8 80.5 L513.5 83.2 L514.1 85.9 L514.7 88.7 L515.2 91.5 L515.8 94.3 L516.4 97.3 L517.0 100.3 L517.5 103.4 L518.0 106.5 L518.5 109.7 L518.9 112.8 L519.4 116.0 L519.9 119.2 L520.4 122.6 L520.9 126.1 L521.5 129.6 L522.0 133.1 L522.5 136.6 L522.9 140.1 L523.4 143.4 L523.8 146.5 L524.1 149.1 L524.3 151.9 L524.5 154.8 L524.7 157.6 L524.9 160.1 L525.2 162.1 L525.4 163.5 L525.8 164.0 L526.1 163.8 L526.4 163.3 L526.7 162.6 L527.0 161.6 L527.4 160.5 L527.7 159.3 L528.0 158.1 L528.3 157.0 L528.7 155.3 L528.9 153.4 L529.2 151.5 L529.4 149.4 L529.6 147.2 L529.9 144.9 L530.1 142.5 L530.4 140.0 L530.9 136.2 L531.4 132.0 L531.9 127.5 L532.5 122.8 L533.1 118.2 L533.7 113.6 L534.4 109.3 L535.1 105.3 L535.7 102.4 L536.2 99.5 L536.8 96.6 L537.4 93.9 L538.1 91.3 L538.8 88.8 L539.6 86.6 L540.6 84.6 L541.3 83.4 L542.1 82.2 L542.8 81.2 L543.7 80.2 L544.5 79.3 L545.5 78.5 L546.5 77.7 L547.6 77.0 L549.0 76.3 L550.6 75.7 L552.3 75.3 L554.1 75.0 L556.0 74.6 L557.8 74.3 L559.6 74.0 L561.4 73.5 L563.1 72.9 L564.9 72.2 L566.6 71.5 L568.3 70.7 L570.0 70.0 L571.7 69.4 L573.5 69.0 L575.2 68.7 L576.9 68.6 L578.7 68.7 L580.4 69.0 L582.1 69.3 L583.9 69.7 L585.6 70.0 L587.4 70.4 L589.1 70.7 L590.8 70.9 L592.6 71.1 L594.3 71.3 L596.1 71.4 L597.8 71.6 L599.5 71.9 L601.2 72.3 L602.9 72.8 L604.7 73.5 L606.4 74.2 L608.2 75.1 L609.9 76.0 L611.7 77.0 L613.4 78.1 L615.0 79.2 L616.7 80.4 L618.5 81.7 L620.2 83.1 L621.9 84.6 L623.6 86.2 L625.3 87.8 L626.9 89.3 L628.5 90.9 L630.0 92.5 L631.4 93.9 L632.7 95.4 L634.0 96.8 L635.2 98.3 L636.4 99.8 L637.6 101.2 L638.8 102.6 L640.0 104.0 L641.0 105.2 L642.0 106.4 L642.9 107.6 L643.8 108.7 L644.7 109.9 L645.7 111.0 L646.7 112.0 L647.7 113.0 L648.7 114.0 L649.8 115.0 L650.9 116.1 L652.1 117.1 L653.2 118.0 L654.4 118.7 L655.5 119.1 L656.7 119.2 L658.1 118.8 L659.5 117.8 L661.0 116.5 L662.4 114.9 L663.9 113.1 L665.3 111.3 L666.9 109.6 L668.4 108.1 L670.0 106.7 L671.7 105.4 L673.4 104.0 L675.2 102.7 L676.9 101.4 L678.7 100.1 L680.4 98.9 L682.2 97.7 L683.9 96.6 L685.6 95.5 L687.2 94.4 L688.9 93.3 L690.6 92.3 L692.4 91.3 L694.2 90.3 L696.1 89.4 L698.4 88.3 L700.9 87.3 L703.4 86.3 L705.9 85.3 L708.6 84.4 L711.3 83.5 L714.0 82.6 L716.8 81.8 L720.0 80.9 L723.4 80.0 L726.9 79.2 L730.4 78.4 L733.9 77.6 L737.5 76.9 L741.0 76.2 L744.5 75.6 L747.9 75.0 L751.4 74.5 L754.8 74.0 L758.3 73.6 L761.7 73.2 L765.2 72.8 L768.6 72.4 L772.1 72.1 L775.6 71.8 L779.1 71.5 L782.7 71.2 L786.2 70.9 L789.7 70.7 L793.2 70.5 L796.5 70.3 L799.8 70.1 L802.5 70.0 L805.0 69.8 L807.5 69.7 L810.0 69.7 L812.4 69.6 L814.9 69.5 L817.4 69.4 L820.0 69.4 L822.9 69.4 L825.9 69.3 L828.9 69.3 L831.9 69.3 L835.0 69.3 L838.1 69.3 L841.3 69.4 L844.6 69.4 L848.7 69.4 L852.9 69.5 L857.3 69.5 L861.8 69.6 L866.3 69.7 L870.7 69.8 L875.0 69.9 L879.2 70.1 L882.8 70.3 L886.3 70.5 L889.8 70.7 L893.2 70.9 L896.6 71.1 L900.0 71.4 L903.4 71.7 L906.8 72.1 L910.3 72.5 L913.8 72.9 L917.4 73.4 L920.9 73.9 L924.4 74.4 L927.9 75.0 L931.2 75.6 L934.5 76.3 L937.3 76.9 L940.0 77.6 L942.6 78.3 L945.2 79.1 L947.7 79.8 L950.3 80.7 L952.7 81.6 L955.2 82.5 L957.6 83.5 L959.9 84.4 L962.2 85.5 L964.4 86.5 L966.7 87.7 L968.9 88.9 L971.1 90.2 L973.2 91.5 L975.4 93.0 L977.6 94.5 L979.7 96.1 L981.8 97.8 L983.9 99.6 L985.9 101.4 L987.9 103.3 L989.8 105.3 L991.7 107.5 L993.6 109.7 L995.3 112.1 L997.1 114.5 L998.8 117.0 L1000.4 119.5 L1002.1 122.1 L1003.8 124.6 L1005.6 127.3 L1007.3 130.2 L1009.0 133.2 L1010.7 136.2 L1012.5 139.1 L1014.2 141.9 L1015.9 144.4 L1017.7 146.7 L1019.1 148.3 L1020.5 149.8 L1022.0 151.2 L1023.4 152.6 L1024.9 153.8 L1026.2 154.9 L1027.5 155.8 L1028.7 156.4 L1029.3 156.7 L1029.8 156.9 L1030.3 157.0 L1030.8 157.2 L1031.3 157.2 L1031.8 157.2 L1032.4 157.2 L1032.9 157.1 L1033.7 156.8 L1034.5 156.4 L1035.4 155.9 L1036.2 155.3 L1037.1 154.6 L1038.0 153.8 L1038.9 153.0 L1039.8 152.2 L1041.2 150.9 L1042.7 149.4 L1044.3 147.7 L1045.8 145.9 L1047.4 144.1 L1049.0 142.2 L1050.6 140.3 L1052.2 138.4 L1053.9 136.2 L1055.6 133.9 L1057.3 131.5 L1059.0 129.1 L1060.7 126.7 L1062.5 124.5 L1064.3 122.3 L1066.1 120.4 L1067.7 118.9 L1069.4 117.5 L1071.2 116.2 L1072.9 114.9 L1074.7 113.8 L1076.5 112.7 L1078.2 111.7 L1079.9 110.7 L1081.3 109.9 L1082.7 109.2 L1084.1 108.6 L1085.5 107.9 L1086.9 107.4 L1088.2 106.9 L1089.6 106.4 L1091.0 106.0 L1092.3 105.7 L1093.5 105.3 L1094.8 105.0 L1096.0 104.8 L1097.3 104.6 L1098.5 104.5 L1099.7 104.5 L1101.0 104.6 L1102.4 104.9 L1103.8 105.3 L1105.2 105.9 L1106.7 106.6 L1108.1 107.3 L1109.5 108.0 L1110.8 108.8 L1112.0 109.5 L1113.0 110.1 L1113.9 110.7 L1114.8 111.4 L1115.7 112.1 L1116.5 112.7 L1117.3 113.4 L1118.2 114.0 L1119.0 114.5 L1119.7 114.9 L1120.4 115.4 L1121.0 115.8 L1121.7 116.2 L1122.3 116.6 L1123.0 116.8 L1123.6 117.0 L1124.3 117.1 L1125.0 117.1 L1125.7 116.9 L1126.4 116.7 L1127.1 116.4 L1127.8 116.0 L1128.4 115.6 L1129.1 115.1 L1129.7 114.5 L1130.5 113.5 L1131.3 112.2 L1132.0 110.7 L1132.7 109.0 L1133.3 107.3 L1134.0 105.6 L1134.6 104.0 L1135.2 102.4 L1135.8 101.0 L1136.3 99.6 L1136.9 98.2 L1137.4 96.9 L1137.9 95.5 L1138.4 94.2 L1139.0 92.8 L1139.6 91.5 L1140.2 90.2 L1140.8 88.9 L1141.4 87.6 L1142.0 86.3 L1142.6 85.0 L1143.3 83.8 L1144.1 82.6 L1145.0 81.5 L1146.0 80.4 L1147.1 79.4 L1148.3 78.4 L1149.6 77.5 L1150.9 76.7 L1152.2 75.8 L1153.6 75.0 L1155.0 74.2 L1156.6 73.3 L1158.2 72.5 L1160.0 71.7 L1161.7 70.9 L1163.5 70.2 L1165.3 69.6 L1167.2 69.0 L1169.0 68.4 L1170.9 67.9 L1172.8 67.5 L1174.7 67.1 L1176.6 66.8 L1178.6 66.5 L1180.6 66.3 L1182.7 66.0 L1185.0 65.8 L1188.3 65.5 L1191.8 65.2 L1195.6 65.0 L1199.4 64.8 L1203.3 64.6 L1207.2 64.5 L1211.0 64.3 L1214.6 64.2 L1217.6 64.1 L1220.4 64.0 L1223.0 64.0 L1225.7 63.9 L1228.4 63.9 L1231.4 63.9 L1234.6 63.8 L1238.2 63.8 L1246.2 63.7 L1255.5 63.6 L1265.8 63.5 L1276.8 63.5 L1288.0 63.5 L1299.2 63.5 L1310.0 63.6 L1320.0 63.8 L1328.2 64.0 L1336.5 64.3 L1344.7 64.7 L1352.8 65.1 L1360.5 65.5 L1367.9 66.0 L1374.7 66.5 L1380.9 67.1 L1384.4 67.5 L1387.6 67.8 L1390.6 68.1 L1393.4 68.5 L1396.2 68.9 L1398.9 69.4 L1401.7 69.9 L1404.6 70.5 L1407.8 71.2 L1411.0 71.9 L1414.2 72.7 L1417.5 73.5 L1420.7 74.4 L1423.8 75.5 L1427.0 76.7 L1430.0 78.0 L1433.1 79.5 L1436.2 81.2 L1439.3 83.1 L1442.3 85.0 L1445.3 87.1 L1448.1 89.2 L1450.6 91.4 L1453.0 93.7 L1454.9 95.8 L1456.5 97.9 L1458.1 100.2 L1459.5 102.5 L1460.9 104.8 L1462.1 107.1 L1463.3 109.3 L1464.5 111.5 L1465.4 113.2 L1466.3 114.9 L1467.0 116.6 L1467.8 118.2 L1468.5 119.9 L1469.2 121.5 L1469.8 123.2 L1470.5 125.0 L1471.2 127.0 L1472.0 128.9 L1472.7 130.9 L1473.3 132.9 L1474.0 135.0 L1474.6 137.2 L1475.2 139.5 L1475.8 142.0 L1476.6 145.9 L1477.2 150.1 L1477.8 154.5 L1478.4 159.2 L1478.9 164.0 L1479.4 168.8 L1479.9 173.6 L1480.5 178.3 L1481.1 183.0 L1481.7 187.8 L1482.3 192.6 L1483.0 197.4 L1483.6 202.3 L1484.2 207.1 L1484.7 211.9 L1485.3 216.7 L1485.8 221.5 L1486.4 226.3 L1486.9 231.1 L1487.4 235.8 L1487.9 240.6 L1488.3 245.4 L1488.8 250.2 L1489.2 255.0 L1489.6 259.9 L1490.0 264.8 L1490.3 269.8 L1490.7 274.8 L1491.0 279.6 L1491.3 284.4 L1491.7 289.0 L1492.0 293.3 L1492.3 296.4 L1492.5 299.3 L1492.8 302.1 L1493.0 304.7 L1493.3 307.4 L1493.5 310.2 L1493.8 313.1 L1494.0 316.3 L1494.3 320.8 L1494.6 325.6 L1494.9 330.5 L1495.2 335.7 L1495.5 341.0 L1495.7 346.4 L1496.0 351.9 L1496.3 357.4 L1496.7 364.2 L1497.0 371.4 L1497.4 378.8 L1497.8 386.3 L1498.1 393.7 L1498.5 401.1 L1498.8 408.2 L1499.1 414.9 L1499.3 420.6 L1499.5 426.9 L1499.6 433.3 L1499.8 439.5 L1499.9 445.0 L1500.1 449.5 L1500.2 452.4 L1500.4 453.5 L1500.6 452.4 L1500.8 449.5 L1501.0 445.0 L1501.2 439.5 L1501.4 433.3 L1501.6 426.9 L1501.8 420.6 L1502.0 414.9 L1502.2 408.2 L1502.5 401.1 L1502.7 393.8 L1502.9 386.3 L1503.1 378.8 L1503.4 371.4 L1503.6 364.2 L1503.9 357.4 L1504.1 351.8 L1504.4 346.3 L1504.6 340.8 L1504.9 335.5 L1505.1 330.3 L1505.4 325.3 L1505.7 320.5 L1506.0 316.0 L1506.3 312.9 L1506.5 310.0 L1506.8 307.2 L1507.1 304.6 L1507.4 301.9 L1507.7 299.2 L1508.0 296.4 L1508.3 293.3 L1508.7 289.0 L1509.2 284.4 L1509.6 279.7 L1510.1 274.8 L1510.6 269.8 L1511.1 264.8 L1511.7 259.9 L1512.2 255.0 L1512.8 250.2 L1513.3 245.4 L1513.9 240.6 L1514.5 235.9 L1515.2 231.1 L1515.8 226.3 L1516.4 221.5 L1517.0 216.7 L1517.6 211.9 L1518.2 207.1 L1518.8 202.3 L1519.4 197.4 L1520.0 192.6 L1520.6 187.8 L1521.2 183.0 L1521.8 178.3 L1522.4 173.6 L1523.1 168.6 L1523.7 163.7 L1524.4 158.7 L1525.0 154.0 L1525.7 149.5 L1526.3 145.5 L1527.0 142.0 L1527.4 140.3 L1527.7 138.9 L1528.0 137.5 L1528.4 136.3 L1528.7 135.1 L1529.1 133.8 L1529.5 132.5 L1530.0 131.1 L1530.6 129.0 L1531.3 126.8 L1532.0 124.5 L1532.7 122.1 L1533.5 119.7 L1534.4 117.4 L1535.3 115.2 L1536.4 113.2 L1537.5 111.5 L1538.6 109.9 L1539.8 108.3 L1541.1 106.8 L1542.4 105.4 L1543.8 104.1 L1545.2 102.8 L1546.6 101.7 L1547.9 100.7 L1549.3 99.8 L1550.8 99.0 L1552.2 98.3 L1553.7 97.6 L1555.2 97.0 L1556.7 96.5 L1558.1 96.0 L1559.4 95.6 L1560.6 95.3 L1561.9 95.1 L1563.1 94.9 L1564.4 94.7 L1565.7 94.7 L1567.0 94.7 L1568.3 94.7 L1569.9 94.8 L1571.5 95.0 L1573.1 95.3 L1574.8 95.7 L1576.4 96.1 L1578.0 96.7 L1579.6 97.2 L1581.1 97.9 L1582.5 98.6 L1583.8 99.4 L1585.1 100.3 L1586.4 101.3 L1587.6 102.3 L1588.9 103.3 L1590.1 104.4 L1591.3 105.5 L1592.6 106.8 L1594.0 108.1 L1595.3 109.4 L1596.6 110.8 L1597.9 112.3 L1599.1 113.8 L1600.3 115.4 L1601.5 117.0 L1602.8 118.9 L1604.0 120.8 L1605.2 122.8 L1606.3 124.9 L1607.5 127.0 L1608.5 129.1 L1609.5 131.4 L1610.5 133.6 L1611.5 136.1 L1612.4 138.7 L1613.3 141.4 L1614.1 144.1 L1614.8 146.9 L1615.5 149.6 L1616.2 152.3 L1616.8 155.0 L1617.3 157.4 L1617.7 159.8 L1618.1 162.2 L1618.4 164.6 L1618.7 166.9 L1619.0 169.3 L1619.4 171.6 L1619.7 174.0" stroke="#FF0000"/><path d="M199.7 65.6 L200.4 66.1 L201.0 66.7 L201.7 67.3 L202.4 67.8 L203.1 68.4 L203.7 68.9 L204.4 69.3 L205.1 69.7 L205.7 70.0 L206.2 70.2 L206.8 70.5 L207.4 70.7 L208.0 70.8 L208.6 70.9 L209.2 71.0 L209.8 70.9 L210.7 70.6 L211.7 70.2 L212.7 69.6 L213.7 68.8 L214.7 68.1 L215.7 67.4 L216.6 66.7 L217.5 66.2 L218.1 65.9 L218.6 65.6 L219.1 65.3 L219.5 65.0 L220.0 64.8 L220.5 64.6 L221.0 64.5 L221.6 64.4 L222.5 64.5 L223.4 64.7 L224.4 65.0 L225.4 65.5 L226.4 66.0 L227.4 66.5 L228.4 67.0 L229.3 67.4 L230.0 67.8 L230.7 68.2 L231.3 68.7 L231.9 69.1 L232.6 69.6 L233.2 69.9 L233.9 70.2 L234.6 70.3 L235.6 70.3 L236.6 70.1 L237.7 69.7 L238.8 69.3 L239.9 68.8 L241.0 68.3 L242.0 67.8 L242.9 67.4 L243.5 67.1 L244.0 66.7 L244.5 66.4 L245.0 66.0 L245.5 65.7 L246.0 65.4 L246.5 65.2 L247.1 65.0 L247.9 64.9 L248.9 64.9 L249.8 65.0 L250.8 65.2 L251.9 65.4 L252.9 65.6 L253.8 65.9 L254.7 66.2 L255.4 66.5 L256.1 66.9 L256.8 67.3 L257.4 67.7 L258.0 68.2 L258.7 68.6 L259.4 68.9 L260.1 69.1 L261.0 69.2 L261.9 69.3 L262.9 69.3 L263.9 69.2 L264.9 69.1 L265.9 69.0 L266.8 68.7 L267.7 68.5 L268.4 68.2 L269.0 67.8 L269.5 67.4 L270.1 67.0 L270.6 66.5 L271.2 66.1 L271.8 65.8 L272.5 65.6 L273.4 65.5 L274.4 65.5 L275.5 65.7 L276.6 65.9 L277.7 66.1 L278.7 66.4 L279.8 66.6 L280.7 66.8 L281.4 66.9 L282.0 67.1 L282.5 67.3 L283.1 67.4 L283.7 67.6 L284.2 67.7 L284.8 67.9 L285.5 68.0 L286.4 68.1 L287.4 68.3 L288.4 68.4 L289.5 68.5 L290.5 68.6 L291.6 68.6 L292.7 68.6 L293.7 68.5 L294.7 68.3 L295.7 68.1 L296.7 67.7 L297.6 67.3 L298.6 67.0 L299.6 66.6 L300.7 66.4 L301.8 66.2 L303.3 66.2 L304.8 66.3 L306.4 66.5 L308.1 66.8 L309.8 67.1 L311.5 67.4 L313.1 67.6 L314.8 67.7 L316.5 67.7 L318.2 67.7 L319.9 67.5 L321.6 67.4 L323.3 67.3 L325.0 67.2 L326.7 67.1 L328.4 67.1 L330.0 67.2 L331.7 67.3 L333.3 67.5 L334.9 67.7 L336.5 67.9 L338.1 68.2 L339.8 68.4 L341.4 68.5 L343.1 68.6 L344.8 68.6 L346.5 68.6 L348.3 68.6 L350.0 68.6 L351.7 68.7 L353.4 68.8 L355.0 69.1 L356.5 69.4 L358.1 69.9 L359.6 70.3 L361.1 70.9 L362.6 71.4 L364.0 72.0 L365.4 72.7 L366.8 73.3 L368.0 73.9 L369.2 74.5 L370.4 75.2 L371.6 75.8 L372.7 76.5 L373.8 77.2 L374.8 77.9 L375.7 78.6 L376.3 79.1 L376.9 79.6 L377.4 80.0 L377.9 80.5 L378.4 81.0 L378.9 81.5 L379.3 82.1 L379.8 82.7 L380.4 83.6 L380.9 84.5 L381.4 85.5 L382.0 86.5 L382.4 87.6 L382.9 88.7 L383.4 89.9 L383.9 91.1 L384.5 92.8 L385.2 94.6 L385.8 96.5 L386.4 98.5 L387.1 100.5 L387.6 102.5 L388.2 104.5 L388.7 106.4 L389.1 108.1 L389.6 109.8 L389.9 111.5 L390.3 113.2 L390.6 114.8 L391.0 116.5 L391.3 118.2 L391.6 119.8 L391.9 121.3 L392.2 122.9 L392.4 124.3 L392.6 125.8 L392.9 127.3 L393.1 128.9 L393.3 130.5 L393.5 132.2 L393.7 134.5 L393.9 137.0 L394.1 139.5 L394.3 142.1 L394.4 144.8 L394.5 147.5 L394.7 150.4 L394.9 153.3 L395.2 157.2 L395.5 161.4 L395.8 165.7 L396.1 170.1 L396.4 174.7 L396.7 179.2 L397.0 183.8 L397.3 188.3 L397.6 193.0 L397.8 197.8 L398.1 202.6 L398.4 207.4 L398.6 212.2 L398.8 217.1 L399.0 221.9 L399.2 226.7 L399.4 231.5 L399.5 236.3 L399.6 241.1 L399.7 245.9 L399.8 250.6 L399.9 255.4 L400.0 260.2 L400.1 265.0 L400.2 269.7 L400.3 274.4 L400.3 279.0 L400.4 283.7 L400.5 288.4 L400.6 293.2 L400.6 298.2 L400.7 303.3 L400.8 309.8 L400.9 316.7 L401.0 323.7 L401.1 330.9 L401.2 338.1 L401.3 345.5 L401.4 352.8 L401.5 360.0 L401.6 367.4 L401.7 375.0 L401.8 382.5 L401.9 390.1 L401.9 397.7 L402.0 405.2 L402.1 412.7 L402.2 420.0 L402.3 427.5 L402.4 436.0 L402.5 444.8 L402.5 453.3 L402.6 461.0 L402.7 467.3 L402.8 471.5 L402.9 473.0 L403.0 471.5 L403.1 467.3 L403.2 461.0 L403.2 453.3 L403.3 444.8 L403.4 436.0 L403.5 427.5 L403.6 420.0 L403.7 412.7 L403.8 405.2 L403.9 397.7 L404.0 390.1 L404.1 382.5 L404.2 375.0 L404.4 367.4 L404.5 360.0 L404.7 352.8 L404.8 345.5 L405.0 338.1 L405.2 330.9 L405.4 323.7 L405.6 316.7 L405.7 309.8 L405.9 303.3 L406.0 298.2 L406.1 293.2 L406.2 288.4 L406.4 283.7 L406.5 279.0 L406.6 274.4 L406.7 269.7 L406.8 265.0 L406.9 260.1 L407.0 255.1 L407.1 250.1 L407.3 245.0 L407.4 240.1 L407.5 235.4 L407.7 230.9 L407.8 226.7 L407.9 224.0 L408.0 221.6 L408.2 219.3 L408.3 217.1 L408.4 214.9 L408.6 212.6 L408.7 210.2 L408.8 207.5 L408.9 203.3 L409.0 198.7 L409.1 193.8 L409.2 188.7 L409.3 183.6 L409.4 178.6 L409.5 173.7 L409.7 169.2 L409.9 165.7 L410.1 162.2 L410.3 158.9 L410.6 155.6 L410.8 152.4 L411.1 149.2 L411.4 146.1 L411.7 143.0 L412.0 140.2 L412.2 137.5 L412.4 134.8 L412.7 132.1 L413.0 129.5 L413.3 126.9 L413.7 124.4 L414.1 122.0 L414.5 120.0 L415.0 118.1 L415.6 116.3 L416.1 114.5 L416.7 112.7 L417.3 111.0 L417.9 109.2 L418.5 107.5 L419.1 105.9 L419.6 104.3 L420.2 102.7 L420.8 101.1 L421.4 99.5 L422.1 98.0 L422.8 96.5 L423.5 95.0 L424.3 93.6 L425.1 92.1 L425.9 90.7 L426.8 89.4 L427.7 88.0 L428.7 86.7 L429.6 85.3 L430.5 84.0 L431.4 82.7 L432.3 81.3 L433.1 79.9 L434.0 78.6 L435.0 77.3 L435.9 76.1 L436.9 75.0 L438.0 74.0 L439.0 73.2 L440.1 72.6 L441.2 72.0 L442.3 71.5 L443.4 71.0 L444.6 70.6 L445.8 70.2 L447.0 69.8 L448.3 69.5 L449.6 69.2 L450.9 69.0 L452.2 68.9 L453.6 68.7 L455.0 68.6 L456.3 68.3 L457.7 68.0 L459.2 67.5 L460.8 66.8 L462.3 66.0 L463.8 65.2 L465.4 64.4 L467.0 63.8 L468.5 63.3 L470.1 63.1 L471.6 63.2 L473.2 63.6 L474.8 64.2 L476.3 64.9 L477.9 65.6 L479.4 66.2 L481.0 66.5 L482.6 66.6 L484.4 66.2 L486.2 65.5 L488.0 64.4 L489.9 63.3 L491.7 62.2 L493.4 61.2 L495.0 60.6 L496.4 60.4 L497.2 60.5 L498.0 60.7 L498.7 61.0 L499.4 61.4 L500.1 61.9 L500.7 62.4 L501.3 63.1 L501.9 63.8 L503.0 65.5 L504.0 67.6 L504.9 70.1 L505.8 72.9 L506.6 75.8 L507.4 78.8 L508.1 81.8 L508.8 84.6 L509.5 87.4 L510.1 90.3 L510.6 93.2 L511.1 96.2 L511.6 99.1 L512.0 102.1 L512.5 105.1 L513.0 108.1 L513.6 111.3 L514.1 114.6 L514.7 118.0 L515.2 121.3 L515.8 124.6 L516.3 127.9 L516.8 131.0 L517.3 134.0 L517.7 136.5 L518.0 139.3 L518.3 142.1 L518.6 144.8 L518.9 147.3 L519.2 149.2 L519.5 150.5 L519.8 151.0 L520.1 150.6 L520.4 149.5 L520.6 147.8 L520.9 145.7 L521.2 143.3 L521.4 140.8 L521.7 138.3 L522.0 136.0 L522.4 132.6 L522.8 128.9 L523.2 125.0 L523.6 120.9 L524.0 116.8 L524.4 112.8 L524.9 108.9 L525.4 105.3 L525.8 102.5 L526.2 99.7 L526.7 96.9 L527.1 94.3 L527.6 91.7 L528.2 89.2 L528.8 86.8 L529.6 84.6 L530.3 82.9 L531.0 81.1 L531.7 79.4 L532.5 77.8 L533.4 76.3 L534.3 74.9 L535.3 73.8 L536.5 72.8 L537.7 72.2 L538.9 71.7 L540.3 71.5 L541.7 71.4 L543.2 71.3 L544.6 71.2 L546.1 71.0 L547.6 70.7 L549.3 70.2 L551.0 69.5 L552.7 68.8 L554.4 68.1 L556.1 67.4 L557.9 66.8 L559.6 66.2 L561.4 65.9 L563.1 65.7 L564.8 65.7 L566.4 65.8 L568.1 65.9 L569.8 66.1 L571.5 66.3 L573.3 66.5 L575.2 66.6 L577.6 66.7 L580.2 66.8 L582.9 66.8 L585.6 66.9 L588.4 67.0 L591.0 67.2 L593.6 67.6 L596.0 68.0 L597.9 68.5 L599.8 69.0 L601.6 69.7 L603.3 70.3 L605.0 71.1 L606.6 71.8 L608.2 72.7 L609.8 73.5 L611.2 74.3 L612.5 75.2 L613.8 76.1 L615.1 77.0 L616.3 78.0 L617.5 79.0 L618.8 80.0 L620.0 81.0 L621.3 82.1 L622.6 83.2 L623.8 84.3 L625.1 85.5 L626.3 86.7 L627.6 87.9 L628.8 89.2 L630.0 90.5 L631.3 92.0 L632.6 93.5 L633.9 95.1 L635.1 96.7 L636.4 98.3 L637.6 99.9 L638.8 101.5 L640.0 103.0 L641.0 104.3 L641.9 105.7 L642.8 107.0 L643.7 108.4 L644.6 109.6 L645.5 110.8 L646.5 112.0 L647.7 113.0 L649.1 114.0 L650.5 115.0 L652.1 115.9 L653.8 116.7 L655.4 117.4 L657.1 118.0 L658.6 118.4 L660.1 118.5 L661.2 118.4 L662.3 118.3 L663.3 117.9 L664.3 117.5 L665.3 117.0 L666.3 116.4 L667.3 115.7 L668.4 115.0 L670.0 113.6 L671.7 111.9 L673.4 110.0 L675.1 107.8 L676.8 105.7 L678.6 103.5 L680.4 101.6 L682.2 99.8 L683.8 98.4 L685.5 97.0 L687.1 95.8 L688.8 94.6 L690.5 93.4 L692.3 92.3 L694.2 91.2 L696.1 90.1 L698.4 88.9 L700.8 87.8 L703.3 86.7 L705.9 85.6 L708.6 84.6 L711.3 83.7 L714.0 82.7 L716.8 81.8 L720.0 80.8 L723.4 79.8 L726.8 78.9 L730.4 78.0 L733.9 77.2 L737.5 76.4 L741.0 75.6 L744.5 74.9 L747.9 74.2 L751.4 73.6 L754.8 73.0 L758.3 72.4 L761.7 71.9 L765.2 71.4 L768.6 71.0 L772.1 70.7 L775.6 70.5 L779.1 70.3 L782.7 70.3 L786.2 70.2 L789.7 70.2 L793.2 70.2 L796.5 70.2 L799.8 70.1 L802.5 70.0 L805.0 69.8 L807.5 69.6 L810.0 69.4 L812.4 69.2 L814.9 69.0 L817.4 68.8 L820.0 68.7 L822.9 68.6 L825.9 68.6 L828.9 68.6 L831.9 68.6 L835.0 68.7 L838.1 68.7 L841.3 68.8 L844.6 68.8 L848.7 68.8 L852.9 68.9 L857.3 68.9 L861.8 69.0 L866.3 69.1 L870.7 69.2 L875.0 69.3 L879.2 69.5 L882.8 69.7 L886.3 69.9 L889.8 70.1 L893.2 70.3 L896.6 70.5 L900.0 70.8 L903.4 71.1 L906.8 71.5 L910.3 71.9 L913.8 72.3 L917.4 72.7 L920.9 73.2 L924.4 73.7 L927.9 74.2 L931.2 74.8 L934.5 75.5 L937.3 76.1 L940.0 76.8 L942.6 77.4 L945.2 78.1 L947.7 78.9 L950.3 79.7 L952.7 80.6 L955.2 81.5 L957.6 82.4 L959.9 83.4 L962.2 84.4 L964.5 85.5 L966.7 86.6 L968.9 87.8 L971.1 89.1 L973.2 90.5 L975.4 92.1 L977.6 93.7 L979.7 95.4 L981.9 97.3 L983.9 99.2 L985.9 101.1 L987.9 103.2 L989.8 105.3 L991.7 107.6 L993.6 110.1 L995.4 112.6 L997.1 115.2 L998.8 117.8 L1000.5 120.5 L1002.1 123.3 L1003.8 126.0 L1005.6 129.0 L1007.3 132.3 L1009.1 135.6 L1010.8 138.9 L1012.5 142.2 L1014.2 145.3 L1015.9 148.2 L1017.7 150.9 L1019.1 152.8 L1020.5 154.7 L1021.9 156.5 L1023.3 158.2 L1024.7 159.8 L1026.1 161.2 L1027.4 162.4 L1028.7 163.3 L1029.4 163.7 L1030.1 164.1 L1030.8 164.3 L1031.5 164.5 L1032.2 164.7 L1032.9 164.7 L1033.6 164.8 L1034.3 164.7 L1035.3 164.5 L1036.3 164.2 L1037.3 163.8 L1038.4 163.3 L1039.5 162.7 L1040.5 162.0 L1041.6 161.3 L1042.6 160.5 L1043.8 159.5 L1045.0 158.3 L1046.2 157.0 L1047.4 155.6 L1048.5 154.1 L1049.7 152.6 L1050.9 151.1 L1052.2 149.5 L1053.8 147.4 L1055.5 145.2 L1057.2 142.8 L1058.9 140.4 L1060.7 138.0 L1062.4 135.7 L1064.3 133.5 L1066.1 131.5 L1067.8 129.8 L1069.5 128.2 L1071.2 126.5 L1073.0 125.0 L1074.7 123.6 L1076.5 122.3 L1078.2 121.3 L1079.9 120.4 L1081.1 119.9 L1082.4 119.5 L1083.6 119.2 L1084.9 119.0 L1086.1 118.8 L1087.3 118.8 L1088.4 118.9 L1089.6 119.0 L1090.7 119.2 L1091.8 119.5 L1092.9 119.9 L1094.0 120.4 L1095.0 121.0 L1096.0 121.7 L1097.0 122.4 L1097.9 123.2 L1099.0 124.4 L1099.9 125.7 L1100.8 127.2 L1101.7 128.8 L1102.5 130.4 L1103.3 132.1 L1104.1 133.9 L1104.8 135.6 L1105.6 137.6 L1106.3 139.6 L1106.9 141.7 L1107.6 143.9 L1108.2 146.1 L1108.8 148.2 L1109.5 150.2 L1110.3 152.2 L1111.1 154.1 L1111.9 156.1 L1112.8 158.2 L1113.7 160.2 L1114.6 162.0 L1115.5 163.4 L1116.4 164.4 L1117.2 164.7 L1118.0 164.3 L1118.7 163.4 L1119.5 162.0 L1120.2 160.2 L1120.9 158.2 L1121.6 156.2 L1122.2 154.1 L1122.8 152.2 L1123.5 149.9 L1124.0 147.4 L1124.6 144.9 L1125.0 142.2 L1125.5 139.5 L1125.9 136.8 L1126.4 134.1 L1126.9 131.5 L1127.4 128.9 L1127.9 126.2 L1128.4 123.5 L1128.9 120.8 L1129.4 118.1 L1130.0 115.6 L1130.5 113.1 L1131.1 110.7 L1131.6 108.9 L1132.1 107.1 L1132.6 105.3 L1133.1 103.6 L1133.6 102.0 L1134.1 100.4 L1134.6 98.9 L1135.2 97.5 L1135.6 96.4 L1136.1 95.5 L1136.5 94.5 L1137.0 93.6 L1137.4 92.7 L1137.9 91.8 L1138.5 90.9 L1139.0 90.0 L1139.6 88.9 L1140.3 87.7 L1141.0 86.6 L1141.7 85.4 L1142.4 84.3 L1143.2 83.1 L1144.1 82.0 L1145.0 81.0 L1146.1 79.9 L1147.2 78.9 L1148.4 77.9 L1149.6 77.0 L1150.9 76.1 L1152.2 75.2 L1153.6 74.3 L1155.0 73.5 L1156.6 72.6 L1158.2 71.8 L1160.0 71.0 L1161.7 70.2 L1163.5 69.5 L1165.3 68.8 L1167.2 68.2 L1169.0 67.6 L1170.9 67.1 L1172.8 66.7 L1174.7 66.3 L1176.6 66.0 L1178.6 65.7 L1180.6 65.5 L1182.8 65.3 L1185.0 65.0 L1188.3 64.7 L1191.8 64.3 L1195.6 64.1 L1199.4 63.8 L1203.3 63.6 L1207.2 63.4 L1211.0 63.2 L1214.6 63.0 L1217.6 62.9 L1220.4 62.8 L1223.1 62.7 L1225.8 62.7 L1228.5 62.6 L1231.5 62.6 L1234.7 62.6 L1238.2 62.5 L1245.5 62.4 L1254.0 62.2 L1263.4 62.1 L1273.2 61.9 L1283.2 61.8 L1292.9 61.7 L1302.0 61.7 L1310.0 61.8 L1315.0 61.9 L1319.7 62.0 L1324.2 62.2 L1328.5 62.4 L1332.7 62.6 L1336.9 62.8 L1341.2 63.1 L1345.5 63.3 L1350.0 63.6 L1354.5 63.8 L1359.1 64.1 L1363.7 64.4 L1368.2 64.7 L1372.6 65.0 L1376.8 65.4 L1380.9 65.8 L1384.1 66.2 L1387.2 66.6 L1390.3 67.0 L1393.2 67.4 L1396.1 67.8 L1399.0 68.3 L1401.8 68.8 L1404.6 69.3 L1407.1 69.8 L1409.6 70.2 L1412.0 70.7 L1414.5 71.2 L1416.8 71.7 L1419.1 72.2 L1421.4 72.8 L1423.5 73.5 L1425.2 74.1 L1426.9 74.7 L1428.4 75.4 L1430.0 76.1 L1431.5 76.9 L1433.0 77.6 L1434.5 78.4 L1436.0 79.2 L1437.6 80.0 L1439.1 80.9 L1440.7 81.8 L1442.2 82.6 L1443.7 83.6 L1445.2 84.6 L1446.6 85.6 L1448.0 86.7 L1449.3 87.9 L1450.5 89.1 L1451.7 90.3 L1452.9 91.6 L1454.0 93.0 L1455.1 94.4 L1456.2 95.8 L1457.2 97.2 L1458.3 98.7 L1459.3 100.3 L1460.4 101.9 L1461.4 103.6 L1462.3 105.3 L1463.3 107.0 L1464.2 108.7 L1465.0 110.4 L1465.8 112.1 L1466.5 113.9 L1467.2 115.6 L1467.9 117.4 L1468.5 119.2 L1469.1 121.0 L1469.7 122.8 L1470.3 124.7 L1470.9 126.8 L1471.5 128.9 L1472.0 131.0 L1472.5 133.2 L1473.0 135.4 L1473.5 137.6 L1474.0 139.8 L1474.5 142.0 L1475.0 144.2 L1475.4 146.4 L1475.9 148.5 L1476.3 150.7 L1476.7 152.9 L1477.1 155.2 L1477.6 157.6 L1478.0 160.0 L1478.6 163.2 L1479.1 166.4 L1479.7 169.8 L1480.3 173.3 L1480.8 176.8 L1481.4 180.5 L1482.0 184.2 L1482.5 187.9 L1483.1 192.4 L1483.8 197.1 L1484.4 201.8 L1485.0 206.7 L1485.6 211.6 L1486.2 216.6 L1486.8 221.5 L1487.3 226.3 L1487.8 231.1 L1488.3 235.9 L1488.8 240.7 L1489.3 245.4 L1489.8 250.2 L1490.2 255.0 L1490.7 259.8 L1491.1 264.6 L1491.5 269.3 L1491.9 273.9 L1492.2 278.4 L1492.6 283.0 L1492.9 287.6 L1493.3 292.4 L1493.6 297.5 L1494.0 302.9 L1494.5 311.0 L1495.1 319.9 L1495.7 329.2 L1496.2 338.8 L1496.8 348.6 L1497.3 358.3 L1497.8 367.7 L1498.2 376.6 L1498.5 384.1 L1498.8 391.4 L1499.1 398.5 L1499.3 405.5 L1499.5 412.5 L1499.7 419.5 L1499.9 426.7 L1500.1 434.0 L1500.3 442.0 L1500.4 450.0 L1500.5 458.0 L1500.6 466.1 L1500.7 474.4 L1500.8 482.7 L1500.8 491.3 L1500.9 500.0 L1501.0 511.6 L1501.0 525.2 L1501.1 539.8 L1501.2 554.2 L1501.2 567.3 L1501.3 578.1 L1501.3 585.3 L1501.4 588.0 L1501.5 586.0 L1501.6 580.5 L1501.7 572.4 L1501.7 562.5 L1501.8 551.4 L1502.0 540.1 L1502.1 529.4 L1502.2 520.0 L1502.3 511.7 L1502.5 503.4 L1502.7 495.1 L1502.8 486.8 L1503.0 478.6 L1503.2 470.2 L1503.3 461.8 L1503.5 453.2 L1503.7 443.8 L1503.8 434.3 L1503.9 424.6 L1504.1 414.9 L1504.2 405.2 L1504.4 395.5 L1504.6 386.0 L1504.9 376.6 L1505.2 367.8 L1505.5 358.6 L1505.8 349.4 L1506.2 340.3 L1506.6 331.6 L1507.0 323.5 L1507.4 316.2 L1507.8 310.0 L1508.0 307.4 L1508.2 305.1 L1508.4 303.1 L1508.6 301.2 L1508.8 299.4 L1509.0 297.5 L1509.3 295.4 L1509.5 293.0 L1509.9 289.0 L1510.3 284.6 L1510.7 279.9 L1511.1 274.9 L1511.5 269.9 L1512.0 264.9 L1512.5 259.9 L1513.0 255.0 L1513.6 250.2 L1514.2 245.4 L1514.8 240.6 L1515.4 235.9 L1516.1 231.1 L1516.7 226.3 L1517.4 221.5 L1518.0 216.7 L1518.6 211.9 L1519.2 207.1 L1519.8 202.3 L1520.4 197.4 L1520.9 192.6 L1521.5 187.8 L1522.2 183.0 L1522.8 178.3 L1523.5 173.5 L1524.1 168.5 L1524.9 163.4 L1525.6 158.4 L1526.3 153.6 L1527.0 149.2 L1527.7 145.3 L1528.3 142.0 L1528.6 140.7 L1528.8 139.6 L1529.1 138.7 L1529.3 137.8 L1529.6 136.9 L1529.9 136.1 L1530.2 135.1 L1530.5 134.0 L1531.1 132.1 L1531.7 130.1 L1532.3 127.9 L1533.0 125.6 L1533.7 123.3 L1534.6 121.1 L1535.4 119.0 L1536.4 117.0 L1537.3 115.3 L1538.3 113.7 L1539.4 112.2 L1540.5 110.6 L1541.6 109.2 L1542.8 107.9 L1544.0 106.6 L1545.3 105.5 L1546.5 104.6 L1547.7 103.8 L1548.9 103.1 L1550.2 102.5 L1551.5 101.9 L1552.8 101.3 L1554.1 100.9 L1555.5 100.4 L1557.0 99.9 L1558.6 99.5 L1560.2 99.1 L1561.8 98.8 L1563.4 98.6 L1565.1 98.5 L1566.7 98.4 L1568.3 98.5 L1569.9 98.7 L1571.6 99.1 L1573.2 99.5 L1574.9 100.1 L1576.5 100.7 L1578.1 101.4 L1579.6 102.2 L1581.1 103.0 L1582.5 103.9 L1583.9 104.8 L1585.2 105.8 L1586.4 106.9 L1587.7 108.1 L1588.9 109.3 L1590.1 110.6 L1591.3 111.9 L1592.7 113.6 L1594.0 115.3 L1595.4 117.2 L1596.7 119.2 L1597.9 121.2 L1599.2 123.2 L1600.4 125.3 L1601.5 127.3 L1602.6 129.3 L1603.6 131.3 L1604.6 133.3 L1605.6 135.4 L1606.6 137.4 L1607.5 139.5 L1608.3 141.7 L1609.2 143.9 L1610.1 146.4 L1611.0 148.9 L1611.9 151.4 L1612.7 154.0 L1613.5 156.6 L1614.2 159.3 L1614.9 162.1 L1615.6 165.0 L1616.3 168.6 L1616.9 172.3 L1617.4 176.2 L1617.9 180.1 L1618.3 184.1 L1618.8 188.1 L1619.2 192.1 L1619.7 196.0" stroke="#E11BD9"/></g>
<g font-family="Liberation Serif, serif" font-size="45.4" fill="#000" stroke="#000" stroke-width="0.45"><text x="159.9" y="71.4" text-anchor="end">0</text><text x="159.9" y="149.9" text-anchor="end">-5</text><text x="160.6" y="228.4" text-anchor="end" textLength="63.4" lengthAdjust="spacingAndGlyphs">-10</text><text x="160.6" y="306.9" text-anchor="end" textLength="63.4" lengthAdjust="spacingAndGlyphs">-15</text><text x="160.6" y="385.4" text-anchor="end" textLength="63.4" lengthAdjust="spacingAndGlyphs">-20</text><text x="160.6" y="463.9" text-anchor="end" textLength="63.4" lengthAdjust="spacingAndGlyphs">-25</text><text x="160.6" y="542.4" text-anchor="end" textLength="63.4" lengthAdjust="spacingAndGlyphs">-30</text><text x="160.6" y="620.9" text-anchor="end" textLength="63.4" lengthAdjust="spacingAndGlyphs">-35</text><text x="160.6" y="699.4" text-anchor="end" textLength="63.4" lengthAdjust="spacingAndGlyphs">-40</text><text x="160.6" y="777.9" text-anchor="end" textLength="63.4" lengthAdjust="spacingAndGlyphs">-45</text><text x="200.5" y="832.2" text-anchor="middle">2</text><text x="403.4" y="832.2" text-anchor="middle">2.5</text><text x="606.2" y="832.2" text-anchor="middle">3</text><text x="809.1" y="832.2" text-anchor="middle">3.5</text><text x="1012.0" y="832.2" text-anchor="middle">4</text><text x="1214.9" y="832.2" text-anchor="middle">4.5</text><text x="1417.7" y="832.2" text-anchor="middle">5</text><text x="1620.6" y="832.2" text-anchor="middle">5.5</text></g>
<g font-family="Liberation Serif, serif" font-size="45" fill="#000" stroke-width="0.45"><path d="M623.7 450.6H680.5" stroke="#000000" stroke-width="3.2" stroke-dasharray="6.7 6.7" stroke-linecap="round"/><text x="689.5" y="465.8" stroke="#000" textLength="240" lengthAdjust="spacingAndGlyphs">Flat Antenna</text><path d="M623.7 516.8H680.5" stroke="#00B050" stroke-width="3.2" stroke-dasharray="6.7 6.7" stroke-linecap="round"/><text x="689.5" y="531.1" stroke="#000" textLength="480" lengthAdjust="spacingAndGlyphs">Bended around child arm</text><path d="M623.7 582.9H680.5" stroke="#FF0000" stroke-width="3.2" stroke-dasharray="6.7 6.7" stroke-linecap="round"/><text x="689.5" y="596.9" stroke="#000" textLength="528.4" lengthAdjust="spacingAndGlyphs">Bended around healthy arm</text><path d="M623.7 647.4H680.5" stroke="#E11BD9" stroke-width="3.2" stroke-dasharray="6.7 6.7" stroke-linecap="round"/><text x="689.5" y="661.8" stroke="#000" textLength="355" lengthAdjust="spacingAndGlyphs">Bended around leg</text></g>
<text x="751" y="885.8" font-family="Liberation Serif, serif" font-size="45" stroke="#000" stroke-width="0.45" textLength="201" lengthAdjust="spacingAndGlyphs">Frequency</text>
<text x="960" y="885.0" font-family="Liberation Serif, serif" font-size="33" stroke="#000" stroke-width="0.35" textLength="85" lengthAdjust="spacingAndGlyphs">(GHz)</text>
<defs><clipPath id="subclip" clipPathUnits="userSpaceOnUse"><rect x="-520" y="-40" width="100" height="48.7"/></clipPath></defs>
<g transform="translate(64.6 0) rotate(-90)" font-family="Liberation Sans, Arial, sans-serif" fill="#000"><text x="-511.2" y="0" font-size="43.5">S</text><text x="-480.8" y="11.9" font-size="33" letter-spacing="-2.2" clip-path="url(#subclip)">11</text><text x="-438.8" y="0" font-size="43.5" textLength="87.5" lengthAdjust="spacingAndGlyphs">(dB)</text></g></svg>
</body></html>
